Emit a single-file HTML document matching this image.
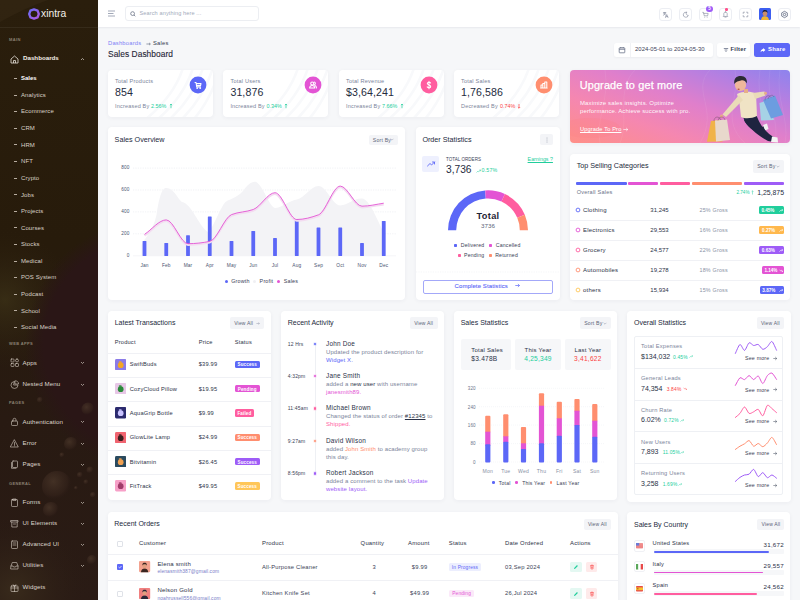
<!DOCTYPE html>
<html><head><meta charset="utf-8"><style>
*{box-sizing:border-box;margin:0;padding:0}
html,body{width:800px;height:600px;overflow:hidden}
body{font-family:"Liberation Sans",sans-serif;background:#f6f7f9;position:relative;color:#1f2a44}
.abs{position:absolute}
.t{position:absolute;white-space:nowrap;line-height:1;letter-spacing:.035em}
#sb{position:absolute;left:0;top:0;width:98px;height:600px;background:linear-gradient(180deg,#2a1e0c 0%,#271b0b 40%,#281a12 70%,#2a1b15 100%);overflow:hidden}
#hdr{position:absolute;left:98px;top:0;width:702px;height:27px;background:#fff;box-shadow:0 1px 1.5px rgba(40,50,90,.07)}
.card{position:absolute;background:#fff;border-radius:4px;box-shadow:0 1px 4px rgba(30,40,80,.05)}
</style></head><body>
<div id="sb">
<svg class="abs" style="left:0;top:0" width="98" height="600"><defs><radialGradient id="bub" cx="38%" cy="35%" r="62%"><stop offset="0" stop-color="#4e3a2c" stop-opacity=".7"/><stop offset=".75" stop-color="#36241c" stop-opacity=".55"/><stop offset="1" stop-color="#2a1a16" stop-opacity="0"/></radialGradient><radialGradient id="glow" cx="50%" cy="50%" r="50%"><stop offset="0" stop-color="#3e3418" stop-opacity=".7"/><stop offset="1" stop-color="#2c200e" stop-opacity="0"/></radialGradient><radialGradient id="big" cx="50%" cy="50%" r="50%"><stop offset=".85" stop-color="#2a1616" stop-opacity="1"/><stop offset="1" stop-color="#2a1616" stop-opacity="0"/></radialGradient><radialGradient id="lb" cx="50%" cy="50%" r="50%"><stop offset="0" stop-color="#3a2c1c" stop-opacity=".9"/><stop offset="1" stop-color="#2a1c14" stop-opacity="0"/></radialGradient></defs><path d="M0 22 Q25 8 48 0 L0 0Z" fill="#3a2c18" opacity=".45"/><circle cx="5" cy="300" r="70" fill="url(#glow)"/><circle cx="150" cy="345" r="125" fill="url(#big)"/><circle cx="15" cy="590" r="75" fill="url(#lb)"/><circle cx="57" cy="486" r="15" fill="url(#bub)"/><circle cx="71" cy="444" r="7" fill="url(#bub)"/><circle cx="88" cy="409" r="6.5" fill="url(#bub)"/><circle cx="51" cy="510" r="8" fill="url(#bub)"/><circle cx="80" cy="475" r="3" fill="url(#bub)"/><circle cx="86" cy="482" r="2.5" fill="url(#bub)"/><circle cx="76" cy="488" r="2" fill="url(#bub)"/><circle cx="90" cy="470" r="3.5" fill="url(#bub)"/><circle cx="62" cy="455" r="2.5" fill="url(#bub)"/><circle cx="93" cy="495" r="3" fill="url(#bub)"/><circle cx="40" cy="400" r="3" fill="url(#bub)"/><circle cx="92" cy="560" r="5" fill="url(#bub)"/></svg>
<svg class="abs" style="left:27.5px;top:7.5px" width="12" height="12" viewBox="0 0 12 12"><defs><linearGradient id="lg" x1="0" y1="0" x2="1" y2="1"><stop offset="0" stop-color="#6a6cf5"/><stop offset="1" stop-color="#b05ae0"/></linearGradient></defs><path d="M6 1.3 L9.6 2.6 L10.8 6 L9.6 9.4 L6 10.7 L2.4 9.4 L1.2 6 L2.4 2.6Z" fill="none" stroke="url(#lg)" stroke-width="2.3" stroke-linejoin="round"/></svg>
<div class="t" style="left:41.00px;top:9px;font-size:10.3px;color:#f3efe9;font-weight:normal;letter-spacing:0">xintra</div>
<div class="abs" style="left:0.00px;top:27.00px;width:98.00px;height:1.00px;background:rgba(255,255,255,.06)"></div>
<div class="t" style="left:9.00px;top:38px;font-size:4.0px;color:#8a8072;font-weight:bold;letter-spacing:.35px">MAIN</div>
<svg class="abs" style="left:9.5px;top:54.5px" width="9" height="9" viewBox="0 0 9 9"><path d="M1 4 L4.5 1 L8 4 V8 H1Z M3.5 8 V5.5 H5.5 V8" fill="none" stroke="#e8e2da" stroke-width=".8" stroke-linejoin="round"/></svg>
<div class="t" style="left:23.00px;top:55px;font-size:6.2px;color:#f4efe8;font-weight:bold;letter-spacing:0">Dashboards</div>
<svg class="abs" style="left:80px;top:56.5px" width="5" height="4" viewBox="0 0 5 4"><path d="M1 3 L2.5 1.5 L4 3" fill="none" stroke="#d8d0c6" stroke-width=".7"/></svg>
<div class="abs" style="left:13.50px;top:77.90px;width:3.00px;height:0.80px;background:#b8ada0"></div>
<div class="t" style="left:21.00px;top:75px;font-size:6px;color:#fff;font-weight:bold;letter-spacing:0">Sales</div>
<div class="abs" style="left:13.50px;top:94.50px;width:3.00px;height:0.80px;background:#b8ada0"></div>
<div class="t" style="left:21.00px;top:92px;font-size:6px;color:#d9d1c7;font-weight:normal;letter-spacing:.1px">Analytics</div>
<div class="abs" style="left:13.50px;top:111.10px;width:3.00px;height:0.80px;background:#b8ada0"></div>
<div class="t" style="left:21.00px;top:108px;font-size:6px;color:#d9d1c7;font-weight:normal;letter-spacing:.1px">Ecommerce</div>
<div class="abs" style="left:13.50px;top:127.70px;width:3.00px;height:0.80px;background:#b8ada0"></div>
<div class="t" style="left:21.00px;top:125px;font-size:6px;color:#d9d1c7;font-weight:normal;letter-spacing:.1px">CRM</div>
<div class="abs" style="left:13.50px;top:144.30px;width:3.00px;height:0.80px;background:#b8ada0"></div>
<div class="t" style="left:21.00px;top:142px;font-size:6px;color:#d9d1c7;font-weight:normal;letter-spacing:.1px">HRM</div>
<div class="abs" style="left:13.50px;top:160.90px;width:3.00px;height:0.80px;background:#b8ada0"></div>
<div class="t" style="left:21.00px;top:158px;font-size:6px;color:#d9d1c7;font-weight:normal;letter-spacing:.1px">NFT</div>
<div class="abs" style="left:13.50px;top:177.50px;width:3.00px;height:0.80px;background:#b8ada0"></div>
<div class="t" style="left:21.00px;top:175px;font-size:6px;color:#d9d1c7;font-weight:normal;letter-spacing:.1px">Crypto</div>
<div class="abs" style="left:13.50px;top:194.10px;width:3.00px;height:0.80px;background:#b8ada0"></div>
<div class="t" style="left:21.00px;top:192px;font-size:6px;color:#d9d1c7;font-weight:normal;letter-spacing:.1px">Jobs</div>
<div class="abs" style="left:13.50px;top:210.70px;width:3.00px;height:0.80px;background:#b8ada0"></div>
<div class="t" style="left:21.00px;top:208px;font-size:6px;color:#d9d1c7;font-weight:normal;letter-spacing:.1px">Projects</div>
<div class="abs" style="left:13.50px;top:227.30px;width:3.00px;height:0.80px;background:#b8ada0"></div>
<div class="t" style="left:21.00px;top:225px;font-size:6px;color:#d9d1c7;font-weight:normal;letter-spacing:.1px">Courses</div>
<div class="abs" style="left:13.50px;top:243.90px;width:3.00px;height:0.80px;background:#b8ada0"></div>
<div class="t" style="left:21.00px;top:241px;font-size:6px;color:#d9d1c7;font-weight:normal;letter-spacing:.1px">Stocks</div>
<div class="abs" style="left:13.50px;top:260.50px;width:3.00px;height:0.80px;background:#b8ada0"></div>
<div class="t" style="left:21.00px;top:258px;font-size:6px;color:#d9d1c7;font-weight:normal;letter-spacing:.1px">Medical</div>
<div class="abs" style="left:13.50px;top:277.10px;width:3.00px;height:0.80px;background:#b8ada0"></div>
<div class="t" style="left:21.00px;top:274px;font-size:6px;color:#d9d1c7;font-weight:normal;letter-spacing:.1px">POS System</div>
<div class="abs" style="left:13.50px;top:293.70px;width:3.00px;height:0.80px;background:#b8ada0"></div>
<div class="t" style="left:21.00px;top:291px;font-size:6px;color:#d9d1c7;font-weight:normal;letter-spacing:.1px">Podcast</div>
<div class="abs" style="left:13.50px;top:310.30px;width:3.00px;height:0.80px;background:#b8ada0"></div>
<div class="t" style="left:21.00px;top:308px;font-size:6px;color:#d9d1c7;font-weight:normal;letter-spacing:.1px">School</div>
<div class="abs" style="left:13.50px;top:326.90px;width:3.00px;height:0.80px;background:#b8ada0"></div>
<div class="t" style="left:21.00px;top:324px;font-size:6px;color:#d9d1c7;font-weight:normal;letter-spacing:.1px">Social Media</div>
<div class="t" style="left:9.00px;top:342px;font-size:4.0px;color:#8a8072;font-weight:bold;letter-spacing:.35px">WEB APPS</div>
<div class="t" style="left:9.00px;top:401px;font-size:4.0px;color:#8a8072;font-weight:bold;letter-spacing:.35px">PAGES</div>
<div class="t" style="left:9.00px;top:482px;font-size:4.0px;color:#8a8072;font-weight:bold;letter-spacing:.35px">GENERAL</div>
<svg class="abs" style="left:9.5px;top:358.4px" width="9" height="9" viewBox="0 0 9 9"><g fill="none" stroke="#d6cec4" stroke-width=".6" stroke-linejoin="round" stroke-linecap="round"><rect x="1" y="1" width="3" height="3" rx=".6"/><rect x="5.5" y="1" width="3" height="3" rx="1.5"/><rect x="1" y="5.5" width="3" height="3" rx=".6"/><rect x="5.5" y="5.5" width="3" height="3" rx=".6"/></g></svg>
<div class="t" style="left:22.50px;top:360px;font-size:6.2px;color:#ddd6cc;font-weight:normal;letter-spacing:.1px">Apps</div>
<svg class="abs" style="left:80px;top:361.4px" width="5" height="4" viewBox="0 0 5 4"><path d="M1 1 L2.5 2.5 L4 1" fill="none" stroke="#cfc6bb" stroke-width=".7"/></svg>
<svg class="abs" style="left:9.5px;top:379.5px" width="9" height="9" viewBox="0 0 9 9"><g fill="none" stroke="#d6cec4" stroke-width=".6" stroke-linejoin="round" stroke-linecap="round"><path d="M4 1.5 A3.5 3.5 0 1 0 8 5 H4Z"/><path d="M5.3 0.8 A3 3 0 0 1 8.6 4 H5.3Z"/></g></svg>
<div class="t" style="left:22.50px;top:381px;font-size:6.2px;color:#ddd6cc;font-weight:normal;letter-spacing:.1px">Nested Menu</div>
<svg class="abs" style="left:80px;top:382.5px" width="5" height="4" viewBox="0 0 5 4"><path d="M1 1 L2.5 2.5 L4 1" fill="none" stroke="#cfc6bb" stroke-width=".7"/></svg>
<svg class="abs" style="left:9.5px;top:417.3px" width="9" height="9" viewBox="0 0 9 9"><g fill="none" stroke="#d6cec4" stroke-width=".6" stroke-linejoin="round" stroke-linecap="round"><rect x="1.5" y="4" width="6" height="4.5" rx=".8"/><path d="M3 4 V2.8 A1.5 1.5 0 0 1 6 2.8 V4"/></g></svg>
<div class="t" style="left:22.50px;top:419px;font-size:6.2px;color:#ddd6cc;font-weight:normal;letter-spacing:.1px">Authentication</div>
<svg class="abs" style="left:80px;top:420.3px" width="5" height="4" viewBox="0 0 5 4"><path d="M1 1 L2.5 2.5 L4 1" fill="none" stroke="#cfc6bb" stroke-width=".7"/></svg>
<svg class="abs" style="left:9.5px;top:438.5px" width="9" height="9" viewBox="0 0 9 9"><g fill="none" stroke="#d6cec4" stroke-width=".6" stroke-linejoin="round" stroke-linecap="round"><path d="M4.5 1 L8.3 8 H0.7Z"/><path d="M4.5 3.5 V5.6 M4.5 6.6 V6.9"/></g></svg>
<div class="t" style="left:22.50px;top:440px;font-size:6.2px;color:#ddd6cc;font-weight:normal;letter-spacing:.1px">Error</div>
<svg class="abs" style="left:80px;top:441.5px" width="5" height="4" viewBox="0 0 5 4"><path d="M1 1 L2.5 2.5 L4 1" fill="none" stroke="#cfc6bb" stroke-width=".7"/></svg>
<svg class="abs" style="left:9.5px;top:459.6px" width="9" height="9" viewBox="0 0 9 9"><g fill="none" stroke="#d6cec4" stroke-width=".6" stroke-linejoin="round" stroke-linecap="round"><rect x="2.5" y="1" width="5" height="6.5" rx=".6"/><path d="M1.5 2.5 V8.3 H6"/></g></svg>
<div class="t" style="left:22.50px;top:461px;font-size:6.2px;color:#ddd6cc;font-weight:normal;letter-spacing:.1px">Pages</div>
<svg class="abs" style="left:80px;top:462.6px" width="5" height="4" viewBox="0 0 5 4"><path d="M1 1 L2.5 2.5 L4 1" fill="none" stroke="#cfc6bb" stroke-width=".7"/></svg>
<svg class="abs" style="left:9.5px;top:497.9px" width="9" height="9" viewBox="0 0 9 9"><g fill="none" stroke="#d6cec4" stroke-width=".6" stroke-linejoin="round" stroke-linecap="round"><rect x="1.5" y="1.5" width="6" height="7" rx=".7"/><path d="M3 1 H6 V2.5 H3Z"/></g></svg>
<div class="t" style="left:22.50px;top:499px;font-size:6.2px;color:#ddd6cc;font-weight:normal;letter-spacing:.1px">Forms</div>
<svg class="abs" style="left:80px;top:500.9px" width="5" height="4" viewBox="0 0 5 4"><path d="M1 1 L2.5 2.5 L4 1" fill="none" stroke="#cfc6bb" stroke-width=".7"/></svg>
<svg class="abs" style="left:9.5px;top:519.0px" width="9" height="9" viewBox="0 0 9 9"><g fill="none" stroke="#d6cec4" stroke-width=".6" stroke-linejoin="round" stroke-linecap="round"><path d="M1 1.5 H8 V3 H1Z M1.8 3 V8 H7.2 V3 M3.5 5 H5.5"/></g></svg>
<div class="t" style="left:22.50px;top:520px;font-size:6.2px;color:#ddd6cc;font-weight:normal;letter-spacing:.1px">UI Elements</div>
<svg class="abs" style="left:80px;top:522.0px" width="5" height="4" viewBox="0 0 5 4"><path d="M1 1 L2.5 2.5 L4 1" fill="none" stroke="#cfc6bb" stroke-width=".7"/></svg>
<svg class="abs" style="left:9.5px;top:540.2px" width="9" height="9" viewBox="0 0 9 9"><g fill="none" stroke="#d6cec4" stroke-width=".6" stroke-linejoin="round" stroke-linecap="round"><rect x="1.5" y="1" width="6" height="7.5" rx=".7"/><path d="M3 3 H6 M3 5 H6"/></g></svg>
<div class="t" style="left:22.50px;top:541px;font-size:6.2px;color:#ddd6cc;font-weight:normal;letter-spacing:.1px">Advanced UI</div>
<svg class="abs" style="left:80px;top:543.2px" width="5" height="4" viewBox="0 0 5 4"><path d="M1 1 L2.5 2.5 L4 1" fill="none" stroke="#cfc6bb" stroke-width=".7"/></svg>
<svg class="abs" style="left:9.5px;top:560.9px" width="9" height="9" viewBox="0 0 9 9"><g fill="none" stroke="#d6cec4" stroke-width=".6" stroke-linejoin="round" stroke-linecap="round"><path d="M1 5 L2.3 1.5 H6.7 L8 5 V8 H1Z M1 5 H3 L3.5 6 H5.5 L6 5 H8"/></g></svg>
<div class="t" style="left:22.50px;top:562px;font-size:6.2px;color:#ddd6cc;font-weight:normal;letter-spacing:.1px">Utilities</div>
<svg class="abs" style="left:80px;top:563.9px" width="5" height="4" viewBox="0 0 5 4"><path d="M1 1 L2.5 2.5 L4 1" fill="none" stroke="#cfc6bb" stroke-width=".7"/></svg>
<svg class="abs" style="left:9.5px;top:582.9px" width="9" height="9" viewBox="0 0 9 9"><g fill="none" stroke="#d6cec4" stroke-width=".6" stroke-linejoin="round" stroke-linecap="round"><rect x="1" y="3" width="7" height="5.5" rx=".6"/><path d="M1 5 H8 M4.5 3 V8.5 M4.5 3 C3 1 1.5 2 4.5 3 C7.5 2 6 1 4.5 3"/></g></svg>
<div class="t" style="left:22.50px;top:584px;font-size:6.2px;color:#ddd6cc;font-weight:normal;letter-spacing:.1px">Widgets</div>
</div>
<div id="hdr">
<svg class="abs" style="left:9px;top:9px" width="9" height="9" viewBox="0 0 9 9"><path d="M1 2 H8 M1 4.5 H6.5 M1 7 H8" stroke="#8a93a6" stroke-width=".8" fill="none"/></svg>
<div class="abs" style="left:26.5px;top:6.3px;width:134px;height:14.5px;border:1px solid #eceef2;border-radius:3px"></div>
<svg class="abs" style="left:32px;top:10.5px" width="6" height="6" viewBox="0 0 6 6"><circle cx="2.6" cy="2.6" r="1.9" fill="none" stroke="#5b6478" stroke-width=".7"/><path d="M4 4 L5.3 5.3" stroke="#5b6478" stroke-width=".7"/></svg>
<div class="t" style="left:41.50px;top:11px;font-size:5.6px;color:#a3abbb;font-weight:normal;letter-spacing:.1px">Search anything here ...</div>
<div class="abs" style="left:560.5px;top:7.5px;width:13px;height:13px;border:.7px solid #eceef3;border-radius:3px"></div>
<svg class="abs" style="left:562.5px;top:9.5px" width="9" height="9" viewBox="0 0 9 9"><g fill="none" stroke="#6b7389" stroke-width=".6" stroke-linecap="round" stroke-linejoin="round" transform="translate(4.5 4.5) scale(.85) translate(-4.5 -4.5)"><path d="M2 2.5 H5 M3.5 2 V2.5 M2.5 2.5 C2.8 4 3.8 5 5 5.3 M4.5 2.5 C4.2 4 3.2 5 2 5.3 M4.5 8 L6 4.5 L7.5 8 M5 7 H7" /></g></svg>
<div class="abs" style="left:580.5px;top:7.5px;width:13px;height:13px;border:.7px solid #eceef3;border-radius:3px"></div>
<svg class="abs" style="left:582.5px;top:9.5px" width="9" height="9" viewBox="0 0 9 9"><g fill="none" stroke="#6b7389" stroke-width=".6" stroke-linecap="round" stroke-linejoin="round" transform="translate(4.5 4.5) scale(.85) translate(-4.5 -4.5)"><path d="M5.5 1.8 A3 3 0 1 0 7.8 5.5 A2.5 2.5 0 0 1 5.5 1.8Z"/></g></svg>
<div class="abs" style="left:600.5px;top:7.5px;width:13px;height:13px;border:.7px solid #eceef3;border-radius:3px"></div>
<svg class="abs" style="left:602.5px;top:9.5px" width="9" height="9" viewBox="0 0 9 9"><g fill="none" stroke="#6b7389" stroke-width=".6" stroke-linecap="round" stroke-linejoin="round" transform="translate(4.5 4.5) scale(.85) translate(-4.5 -4.5)"><path d="M1.2 2 H2.2 L3 6 H7 L7.6 3.2 H2.6 M3.5 7.6 V7.7 M6.5 7.6 V7.7"/></g></svg>
<div class="abs" style="left:620.5px;top:7.5px;width:13px;height:13px;border:.7px solid #eceef3;border-radius:3px"></div>
<svg class="abs" style="left:622.5px;top:9.5px" width="9" height="9" viewBox="0 0 9 9"><g fill="none" stroke="#6b7389" stroke-width=".6" stroke-linecap="round" stroke-linejoin="round" transform="translate(4.5 4.5) scale(.85) translate(-4.5 -4.5)"><path d="M4.5 1.5 C3 1.5 2.5 2.8 2.5 4 V5.8 L1.8 6.8 H7.2 L6.5 5.8 V4 C6.5 2.8 6 1.5 4.5 1.5Z M3.8 7.6 H5.2"/></g></svg>
<div class="abs" style="left:640.5px;top:7.5px;width:13px;height:13px;border:.7px solid #eceef3;border-radius:3px"></div>
<svg class="abs" style="left:642.5px;top:9.5px" width="9" height="9" viewBox="0 0 9 9"><g fill="none" stroke="#6b7389" stroke-width=".6" stroke-linecap="round" stroke-linejoin="round" transform="translate(4.5 4.5) scale(.85) translate(-4.5 -4.5)"><path d="M1.8 3.3 V1.8 H3.3 M5.7 1.8 H7.2 V3.3 M7.2 5.7 V7.2 H5.7 M3.3 7.2 H1.8 V5.7"/></g></svg>
<div class="abs" style="left:608.3px;top:5.6px;width:6.4px;height:6.4px;border-radius:50%;background:#9e5cf7;color:#fff;font-size:4.6px;line-height:6.4px;text-align:center;font-weight:bold">5</div>
<div class="abs" style="left:627px;top:8.3px;width:2.6px;height:2.6px;border-radius:50%;background:#ff4f8b"></div>
<svg class="abs" style="left:660.5px;top:8.2px" width="12" height="12" viewBox="0 0 12 12"><rect width="12" height="12" rx="1.5" fill="#3d5ef0"/><path d="M2 12 C2.5 9 4 8.2 6 8.2 C8 8.2 9.5 9 10 12Z" fill="#f2b632"/><ellipse cx="6" cy="5.6" rx="2.3" ry="2.7" fill="#c98d6a"/><path d="M3.5 5 C3.4 2.5 4.8 2 6 2 C7.4 2 8.7 2.6 8.5 5 C8 3.8 7 3.6 6 3.6 C4.8 3.6 4 4 3.5 5Z" fill="#1c1c2a"/></svg>
<div class="abs" style="left:679.5px;top:7.5px;width:13px;height:13px;border:.7px solid #eceef3;border-radius:3px"></div>
<svg class="abs" style="left:681.5px;top:9.5px" width="9" height="9" viewBox="0 0 9 9"><g fill="none" stroke="#56607a" stroke-width=".75"><circle cx="4.5" cy="4.5" r="1.2"/><path d="M4.5 1.3 L7.3 2.9 V6.1 L4.5 7.7 L1.7 6.1 V2.9Z" stroke-linejoin="round"/></g></svg>
</div>
<div class="t" style="left:108.00px;top:41px;font-size:5.8px;color:#7d80f5;font-weight:normal;">Dashboards</div>
<svg class="abs" style="left:146.3px;top:41.9px" width="5" height="4" viewBox="0 0 5 4"><path d="M.4 2 H4.3 M3.1 .9 L4.3 2 L3.1 3.1" fill="none" stroke="#5b6478" stroke-width=".6"/></svg>
<div class="t" style="left:153.00px;top:41px;font-size:5.8px;color:#333b4f;font-weight:normal;">Sales</div>
<div class="t" style="left:108.00px;top:50px;font-size:8.4px;color:#1f2535;font-weight:normal;letter-spacing:.05px;-webkit-text-stroke:.1px #1f2535">Sales Dashboard</div>
<div class="abs" style="left:614.00px;top:42.50px;width:99.00px;height:14.00px;background:#fff;border-radius:2.5px;box-shadow:0 1px 2px rgba(30,40,80,.05)"></div>
<div class="abs" style="left:630.00px;top:42.50px;width:1.00px;height:14.00px;background:#f1f2f5"></div>
<svg class="abs" style="left:617.5px;top:45.5px" width="8" height="8" viewBox="0 0 8 8"><g fill="none" stroke="#56607a" stroke-width=".7"><rect x="1.2" y="1.8" width="5.6" height="5" rx=".6"/><path d="M1.2 3.3 H6.8 M2.8 1 V2.4 M5.2 1 V2.4"/></g></svg>
<div class="t" style="left:635.00px;top:47px;font-size:5.9px;color:#3a4256;font-weight:normal;letter-spacing:.05px">2024-05-01 to 2024-05-30</div>
<div class="abs" style="left:717.00px;top:42.50px;width:32.50px;height:14.00px;background:#fff;border-radius:2.5px;box-shadow:0 1px 2px rgba(30,40,80,.05)"></div>
<svg class="abs" style="left:722.5px;top:46.5px" width="6" height="6" viewBox="0 0 6 6"><path d="M.8 1.5 H5.2 M1.6 3 H4.4 M2.5 4.5 H3.5" stroke="#56607a" stroke-width=".7"/></svg>
<div class="t" style="left:730.50px;top:47px;font-size:5.9px;color:#333b4f;font-weight:bold;">Filter</div>
<div class="abs" style="left:754.30px;top:42.50px;width:36.20px;height:14.30px;background:#5c67f7;border-radius:2.5px"></div>
<svg class="abs" style="left:759.5px;top:46.5px" width="6" height="6" viewBox="0 0 6 6"><path d="M3.2 1 L5.4 3 L3.2 5 V3.9 C2 3.9 1.2 4.3 .6 5.2 C.8 3.4 1.8 2.2 3.2 2.1Z" fill="#fff"/></svg>
<div class="t" style="left:768.00px;top:47px;font-size:5.9px;color:#fff;font-weight:bold;">Share</div>
<div class="card" style="left:108px;top:70.3px;width:105px;height:46.8px;overflow:hidden"><svg class="abs" style="left:0;top:0" width="105" height="47"><g fill="none" stroke="#f8f9fb" stroke-width="2.6"><path d="M38 49 C55 35 68 20 75 -2"/><path d="M50 49 C66 35 78 20 85 -2"/><path d="M62 49 C77 35 88 20 95 -2"/><path d="M74 49 C88 35 98 20 105 -2"/><path d="M86 49 C98 35 106 20 112 -2"/></g></svg></div>
<div class="t" style="left:115.00px;top:79px;font-size:5.6px;color:#7b849a;font-weight:normal;">Total Products</div>
<div class="t" style="left:115.00px;top:87px;font-size:10.6px;color:#252c40;font-weight:normal;letter-spacing:.1px">854</div>
<div class="t" style="left:115.00px;top:104px;font-size:5.5px;color:#7b849a;font-weight:normal;">Increased By</div>
<div class="t" style="left:151.10px;top:104px;font-size:5.4px;color:#21ce9c;font-weight:normal;letter-spacing:0">2.56%</div>
<svg class="abs" style="left:168.80px;top:102.6px" width="4" height="6" viewBox="0 0 4 6"><g fill="none" stroke="#21ce9c" stroke-width=".7"><path d="M2 5.2 V1 M.9 2.1 L2 1 L3.1 2.1" /></g></svg>
<svg class="abs" style="left:189.00px;top:76.40px" width="18" height="18" viewBox="-9 -9 18 18"><circle r="8.4" fill="#5c67f7"/><g fill="none" stroke="#fff" stroke-width="1.05" stroke-linecap="round" stroke-linejoin="round"><path d="M-3 -2.6 H-2 L-1.3 2 H2.6 M-1.6 -1.4 H3 L2.6 .6 H-1.1" /><circle cx="-.8" cy="3.1" r=".4" fill="#fff"/><circle cx="2.2" cy="3.1" r=".4" fill="#fff"/></g></svg>
<div class="card" style="left:223.4px;top:70.3px;width:105px;height:46.8px;overflow:hidden"><svg class="abs" style="left:0;top:0" width="105" height="47"><g fill="none" stroke="#f8f9fb" stroke-width="2.6"><path d="M38 49 C55 35 68 20 75 -2"/><path d="M50 49 C66 35 78 20 85 -2"/><path d="M62 49 C77 35 88 20 95 -2"/><path d="M74 49 C88 35 98 20 105 -2"/><path d="M86 49 C98 35 106 20 112 -2"/></g></svg></div>
<div class="t" style="left:230.40px;top:79px;font-size:5.6px;color:#7b849a;font-weight:normal;">Total Users</div>
<div class="t" style="left:230.40px;top:87px;font-size:10.6px;color:#252c40;font-weight:normal;letter-spacing:.1px">31,876</div>
<div class="t" style="left:230.40px;top:104px;font-size:5.5px;color:#7b849a;font-weight:normal;">Increased By</div>
<div class="t" style="left:266.50px;top:104px;font-size:5.4px;color:#21ce9c;font-weight:normal;letter-spacing:0">0.34%</div>
<svg class="abs" style="left:284.20px;top:102.6px" width="4" height="6" viewBox="0 0 4 6"><g fill="none" stroke="#21ce9c" stroke-width=".7"><path d="M2 5.2 V1 M.9 2.1 L2 1 L3.1 2.1" /></g></svg>
<svg class="abs" style="left:304.40px;top:76.40px" width="18" height="18" viewBox="-9 -9 18 18"><circle r="8.4" fill="#e354d4"/><g fill="none" stroke="#fff" stroke-width="1.05" stroke-linecap="round" stroke-linejoin="round"><circle cx="-.8" cy="-1.6" r="1.5"/><path d="M-3.4 3 C-3.2 1 -2.2 .4 -.8 .4 C.6 .4 1.6 1 1.8 3Z"/><path d="M1.2 -3 C2.6 -3 2.8 -.6 1.4 -.2 M2 .5 C3 .8 3.4 1.6 3.5 3"/></g></svg>
<div class="card" style="left:339px;top:70.3px;width:105px;height:46.8px;overflow:hidden"><svg class="abs" style="left:0;top:0" width="105" height="47"><g fill="none" stroke="#f8f9fb" stroke-width="2.6"><path d="M38 49 C55 35 68 20 75 -2"/><path d="M50 49 C66 35 78 20 85 -2"/><path d="M62 49 C77 35 88 20 95 -2"/><path d="M74 49 C88 35 98 20 105 -2"/><path d="M86 49 C98 35 106 20 112 -2"/></g></svg></div>
<div class="t" style="left:346.00px;top:79px;font-size:5.6px;color:#7b849a;font-weight:normal;">Total Revenue</div>
<div class="t" style="left:346.00px;top:87px;font-size:10.6px;color:#252c40;font-weight:normal;letter-spacing:.1px">$3,64,241</div>
<div class="t" style="left:346.00px;top:104px;font-size:5.5px;color:#7b849a;font-weight:normal;">Increased By</div>
<div class="t" style="left:382.10px;top:104px;font-size:5.4px;color:#21ce9c;font-weight:normal;letter-spacing:0">7.66%</div>
<svg class="abs" style="left:399.80px;top:102.6px" width="4" height="6" viewBox="0 0 4 6"><g fill="none" stroke="#21ce9c" stroke-width=".7"><path d="M2 5.2 V1 M.9 2.1 L2 1 L3.1 2.1" /></g></svg>
<svg class="abs" style="left:420.00px;top:76.40px" width="18" height="18" viewBox="-9 -9 18 18"><circle r="8.4" fill="#ff5d9f"/><g fill="none" stroke="#fff" stroke-width="1.05" stroke-linecap="round" stroke-linejoin="round"><path d="M1.6 -2 C1.2 -2.6 .6 -2.8 0 -2.8 C-1 -2.8 -1.7 -2.2 -1.7 -1.4 C-1.7 .3 1.7 -.4 1.7 1.4 C1.7 2.2 1 2.8 0 2.8 C-.7 2.8 -1.4 2.5 -1.8 1.9 M0 -3.8 V3.8"/></g></svg>
<div class="card" style="left:454px;top:70.3px;width:105px;height:46.8px;overflow:hidden"><svg class="abs" style="left:0;top:0" width="105" height="47"><g fill="none" stroke="#f8f9fb" stroke-width="2.6"><path d="M38 49 C55 35 68 20 75 -2"/><path d="M50 49 C66 35 78 20 85 -2"/><path d="M62 49 C77 35 88 20 95 -2"/><path d="M74 49 C88 35 98 20 105 -2"/><path d="M86 49 C98 35 106 20 112 -2"/></g></svg></div>
<div class="t" style="left:461.00px;top:79px;font-size:5.6px;color:#7b849a;font-weight:normal;">Total Sales</div>
<div class="t" style="left:461.00px;top:87px;font-size:10.6px;color:#252c40;font-weight:normal;letter-spacing:.1px">1,76,586</div>
<div class="t" style="left:461.00px;top:104px;font-size:5.5px;color:#7b849a;font-weight:normal;">Decreased By</div>
<div class="t" style="left:500.00px;top:104px;font-size:5.4px;color:#fb4242;font-weight:normal;letter-spacing:0">0.74%</div>
<svg class="abs" style="left:516.80px;top:102.6px" width="4" height="6" viewBox="0 0 4 6"><g fill="none" stroke="#fb4242" stroke-width=".7"><path d="M2 1 V5.2 M.9 4.1 L2 5.2 L3.1 4.1"/></g></svg>
<svg class="abs" style="left:535.00px;top:76.40px" width="18" height="18" viewBox="-9 -9 18 18"><circle r="8.4" fill="#ff8e6f"/><g fill="none" stroke="#fff" stroke-width="1.05" stroke-linecap="round" stroke-linejoin="round"><path d="M-3 3 V0 H-1.2 V3 M-1.2 3 V-1.5 H.8 V3 M.8 3 V-3 H2.8 V3Z M-3.4 3 H3.2"/></g></svg>
<div class="card" style="left:570px;top:70.2px;width:220.3px;height:73px;overflow:hidden;border-radius:4px;background:linear-gradient(20deg,#ff8f87 0%,#f587b0 30%,#e07fcb 55%,#b77fe0 78%,#8c83ee 100%)"><svg class="abs" style="left:0;top:0" width="221" height="73"><g fill="none" stroke="rgba(255,255,255,.12)" stroke-width=".6"><path d="M30 73 C25 50 40 30 35 0"/><path d="M50 73 C60 50 45 20 65 0"/><path d="M140 0 C120 20 150 40 130 73"/><path d="M165 0 C170 30 150 50 175 73"/><path d="M190 0 C185 30 200 50 195 73"/><path d="M200 0 C195 30 210 50 205 73"/><path d="M210 0 C205 30 220 50 215 73"/></g><ellipse cx="20" cy="58" rx="30" ry="10" fill="rgba(255,120,120,.15)"/></svg></div>
<div class="t" style="left:579.70px;top:80px;font-size:10.9px;color:#fff;font-weight:normal;letter-spacing:.15px;-webkit-text-stroke:.25px #fff">Upgrade to get more</div>
<div class="t" style="left:580.00px;top:100px;font-size:6.0px;color:rgba(255,255,255,.95);font-weight:normal;letter-spacing:.12px">Maximize sales insights. Optimize</div>
<div class="t" style="left:580.00px;top:108px;font-size:6.0px;color:rgba(255,255,255,.95);font-weight:normal;letter-spacing:.12px">performance. Achieve success with pro.</div>
<div class="t" style="left:580.00px;top:127px;font-size:5.7px;color:#fff;font-weight:normal;text-decoration:underline;letter-spacing:.12px">Upgrade To Pro</div>
<svg class="abs" style="left:622.5px;top:127.3px" width="6" height="5" viewBox="0 0 6 5"><path d="M.3 2.5 H4.8 M3.2 1 L4.8 2.5 L3.2 4" fill="none" stroke="#fff" stroke-width=".6"/></svg>
<svg class="abs" style="left:700px;top:73px" width="90" height="71" viewBox="700 73 90 71"><path d="M759.5 103 L768 100 L774 120 L761 120.5Z" fill="#a6d2e6"/><path d="M763 100 L775 95.5 L783 115 L771 118.5Z" fill="#6c9de0"/><path d="M765 100.5 C765 96 769 94 771 97.5 M768 99 C769 95 773 94 774 97" fill="none" stroke="#5a5a80" stroke-width=".45"/><path d="M748 117 C752 124 757 128 762 127 L765 126 L766 130 L760 132 C753 132 747 126 744 120Z" fill="#232a48"/><path d="M763 125 L767 123.5 L768.5 129 L765 130.5Z" fill="#f0f0f0"/><path d="M742 114 L756 113 C758 122 764 131 772 136 L776 138.5 L774 142 L768 141 C758 136 750 128 745 122Z" fill="#1e2440"/><path d="M772 136.5 L777.5 137.5 L778 142.5 L771 142Z" fill="#f3f3f3"/><path d="M737 94 C742 91 751 91 756 93.5 L757 116 C752 118.5 745 119 741 117 L739.5 103Z" fill="#f0e3c5"/><path d="M739 95 L743 100 L726 117 L722.5 114.5Z" fill="#eadbb8"/><path d="M753 93 L764.5 91.5 L765.5 95.5 L755 99Z" fill="#eadbb8"/><circle cx="721.5" cy="116" r="1.6" fill="#e7ad88"/><circle cx="765.5" cy="93.3" r="1.5" fill="#e7ad88"/><path d="M711 121 L720 120 L722.5 141.5 L707 141.8Z" fill="#f0b349"/><path d="M715 120.5 L727 119.5 L730 140 L716 141.5Z" fill="#e8d8cc"/><path d="M714 121 C714 116.5 719 115.5 721 120 M718 120.5 C719 116 724 116 725 120" fill="none" stroke="#6a4a60" stroke-width=".45"/><rect x="744" y="89" width="4" height="4" fill="#e7ad88"/><ellipse cx="740.5" cy="85" rx="5.6" ry="6.1" fill="#efb79b"/><path d="M734.3 84 C733.6 78 737 75.8 741 76 C745 76.2 747.6 78.8 746.8 83.6 C745.5 80.8 743.5 80 741 80.5 C738.5 81 736 81.8 734.3 84Z" fill="#2b2b33"/><ellipse cx="738.6" cy="89.2" rx="1.1" ry=".8" fill="#b5504a"/></svg>
<div class="card" style="left:108px;top:127.4px;width:297px;height:173px"></div>
<div class="t" style="left:114.60px;top:136px;font-size:7.2px;color:#232a3d;font-weight:normal;letter-spacing:.0px">Sales Overview</div>
<div class="abs" style="left:368.60px;top:134.70px;width:29.80px;height:10.40px;background:#f3f4f7;border-radius:2px"></div><div class="t" style="left:372.80px;top:138px;font-size:5.2px;color:#5b6478;font-weight:normal;">Sort By</div><svg class="abs" style="left:390.40px;top:138.40px" width="4" height="3" viewBox="0 0 4 3"><path d="M.6 .8 L2 2.2 L3.4 .8" fill="none" stroke="#8a92a6" stroke-width=".5"/></svg>
<svg class="abs" style="left:0;top:0" width="800" height="600"><line x1="133" y1="168.1" x2="396" y2="168.1" stroke="#e6e8ee" stroke-width=".6" stroke-dasharray="1.2 1.2"/><line x1="133" y1="190.0" x2="396" y2="190.0" stroke="#e6e8ee" stroke-width=".6" stroke-dasharray="1.2 1.2"/><line x1="133" y1="211.9" x2="396" y2="211.9" stroke="#e6e8ee" stroke-width=".6" stroke-dasharray="1.2 1.2"/><line x1="133" y1="233.8" x2="396" y2="233.8" stroke="#e6e8ee" stroke-width=".6" stroke-dasharray="1.2 1.2"/><line x1="133" y1="255.8" x2="396" y2="255.8" stroke="#eceef3" stroke-width=".6"/><path d="M141.5 256 L141.5 245 C144.5 238 152.5 232 156.5 215 C159.5 195 162.25 188 166.25 188 C174.25 188 178.25 200 182.0 202 C192.0 204 198.0 225 207.75 232 C213.75 228 219.75 208 225.5 202 C231.5 198 239.5 197 245.25 188 C249.25 183 253.25 181 256.25 182 C263.25 186 269.0 206 275.0 208 C281.0 208 288.75 201 296.75 199.5 C304.75 198 310.5 186 318.5 186 C326.5 186 332.25 205 340.25 205.5 C348.25 205 354.0 198 362.0 198.5 C370.0 199 377.75 222 383.75 232 L383.75 256Z" fill="#f3f3f6"/><rect x="142.60" y="241.0" width="3.8" height="15.00" rx=".5" fill="#5c67f7"/><rect x="164.35" y="243.1" width="3.8" height="12.90" rx=".5" fill="#5c67f7"/><rect x="186.10" y="235.3" width="3.8" height="20.70" rx=".5" fill="#5c67f7"/><rect x="207.85" y="216.4" width="3.8" height="39.60" rx=".5" fill="#5c67f7"/><rect x="229.60" y="241.0" width="3.8" height="15.00" rx=".5" fill="#5c67f7"/><rect x="251.35" y="230.9" width="3.8" height="25.10" rx=".5" fill="#5c67f7"/><rect x="273.10" y="238.1" width="3.8" height="17.90" rx=".5" fill="#5c67f7"/><rect x="294.85" y="219.5" width="3.8" height="36.50" rx=".5" fill="#5c67f7"/><rect x="316.60" y="227.6" width="3.8" height="28.40" rx=".5" fill="#5c67f7"/><rect x="338.35" y="227.6" width="3.8" height="28.40" rx=".5" fill="#5c67f7"/><rect x="360.10" y="243.0" width="3.8" height="13.00" rx=".5" fill="#5c67f7"/><rect x="381.85" y="221.1" width="3.8" height="34.90" rx=".5" fill="#5c67f7"/><path d="M144.50 234.40 C151.75 229.57 159.00 219.90 166.25 219.90 C173.50 219.90 180.75 243.70 188.00 243.70 C195.25 243.70 202.50 242.81 209.75 241.40 C217.00 239.99 224.25 217.46 231.50 214.60 C238.75 211.74 246.00 212.11 253.25 209.50 C260.50 206.89 267.75 192.70 275.00 192.70 C282.25 192.70 289.50 219.50 296.75 219.50 C304.00 219.50 311.25 217.49 318.50 214.80 C325.75 212.11 333.00 186.10 340.25 186.10 C347.50 186.10 354.75 206.20 362.00 206.20 C369.25 206.20 376.50 204.20 383.75 203.20" fill="none" stroke="#f3dcf1" stroke-width="2" transform="translate(0,1.2)"/><path d="M144.50 234.40 C151.75 229.57 159.00 219.90 166.25 219.90 C173.50 219.90 180.75 243.70 188.00 243.70 C195.25 243.70 202.50 242.81 209.75 241.40 C217.00 239.99 224.25 217.46 231.50 214.60 C238.75 211.74 246.00 212.11 253.25 209.50 C260.50 206.89 267.75 192.70 275.00 192.70 C282.25 192.70 289.50 219.50 296.75 219.50 C304.00 219.50 311.25 217.49 318.50 214.80 C325.75 212.11 333.00 186.10 340.25 186.10 C347.50 186.10 354.75 206.20 362.00 206.20 C369.25 206.20 376.50 204.20 383.75 203.20" fill="none" stroke="#e354d4" stroke-width=".9"/></svg>
<div class="t" style="right:670.40px;top:166px;font-size:4.7px;color:#4a5470;font-weight:normal;">800</div>
<div class="t" style="right:670.40px;top:188px;font-size:4.7px;color:#4a5470;font-weight:normal;">600</div>
<div class="t" style="right:670.40px;top:210px;font-size:4.7px;color:#4a5470;font-weight:normal;">400</div>
<div class="t" style="right:670.40px;top:232px;font-size:4.7px;color:#4a5470;font-weight:normal;">200</div>
<div class="t" style="right:670.40px;top:254px;font-size:4.7px;color:#4a5470;font-weight:normal;">0</div>
<div class="t" style="left:44.50px;width:200px;text-align:center;top:264px;font-size:4.8px;color:#4a5470;font-weight:normal;letter-spacing:.1px">Jan</div>
<div class="t" style="left:66.25px;width:200px;text-align:center;top:264px;font-size:4.8px;color:#4a5470;font-weight:normal;letter-spacing:.1px">Feb</div>
<div class="t" style="left:88.00px;width:200px;text-align:center;top:264px;font-size:4.8px;color:#4a5470;font-weight:normal;letter-spacing:.1px">Mar</div>
<div class="t" style="left:109.75px;width:200px;text-align:center;top:264px;font-size:4.8px;color:#4a5470;font-weight:normal;letter-spacing:.1px">Apr</div>
<div class="t" style="left:131.50px;width:200px;text-align:center;top:264px;font-size:4.8px;color:#4a5470;font-weight:normal;letter-spacing:.1px">May</div>
<div class="t" style="left:153.25px;width:200px;text-align:center;top:264px;font-size:4.8px;color:#4a5470;font-weight:normal;letter-spacing:.1px">Jun</div>
<div class="t" style="left:175.00px;width:200px;text-align:center;top:264px;font-size:4.8px;color:#4a5470;font-weight:normal;letter-spacing:.1px">Jul</div>
<div class="t" style="left:196.75px;width:200px;text-align:center;top:264px;font-size:4.8px;color:#4a5470;font-weight:normal;letter-spacing:.1px">Aug</div>
<div class="t" style="left:218.50px;width:200px;text-align:center;top:264px;font-size:4.8px;color:#4a5470;font-weight:normal;letter-spacing:.1px">Sep</div>
<div class="t" style="left:240.25px;width:200px;text-align:center;top:264px;font-size:4.8px;color:#4a5470;font-weight:normal;letter-spacing:.1px">Oct</div>
<div class="t" style="left:262.00px;width:200px;text-align:center;top:264px;font-size:4.8px;color:#4a5470;font-weight:normal;letter-spacing:.1px">Nov</div>
<div class="t" style="left:283.75px;width:200px;text-align:center;top:264px;font-size:4.8px;color:#4a5470;font-weight:normal;letter-spacing:.1px">Dec</div>
<div class="abs" style="left:224.90px;top:279.50px;width:3.00px;height:3.00px;border-radius:50%;background:#5c67f7"></div>
<div class="t" style="left:231.20px;top:279px;font-size:5.4px;color:#3a4256;font-weight:normal;">Growth</div>
<div class="abs" style="left:253.40px;top:279.50px;width:3.00px;height:3.00px;border-radius:50%;background:#f0f0f3"></div>
<div class="t" style="left:259.60px;top:279px;font-size:5.4px;color:#3a4256;font-weight:normal;">Profit</div>
<div class="abs" style="left:277.40px;top:279.50px;width:3.00px;height:3.00px;border-radius:50%;background:#e354d4"></div>
<div class="t" style="left:283.70px;top:279px;font-size:5.4px;color:#3a4256;font-weight:normal;">Sales</div>
<div class="card" style="left:416px;top:127.4px;width:143.5px;height:173px"></div>
<div class="t" style="left:422.40px;top:136px;font-size:7.2px;color:#232a3d;font-weight:normal;letter-spacing:.0px">Order Statistics</div>
<div class="abs" style="left:540.40px;top:133.80px;width:12.30px;height:11.70px;background:#f3f4f7;border-radius:2px"></div>
<svg class="abs" style="left:545.5px;top:137px" width="2" height="6" viewBox="0 0 2 6"><circle cx="1" cy="1" r=".45" fill="#6b7389"/><circle cx="1" cy="3" r=".45" fill="#6b7389"/><circle cx="1" cy="5" r=".45" fill="#6b7389"/></svg>
<div class="abs" style="left:422.40px;top:155.70px;width:16.60px;height:16.30px;background:#eef0fe;border-radius:2px"></div>
<svg class="abs" style="left:425.7px;top:159px" width="10" height="10" viewBox="0 0 10 10"><path d="M1.5 7 L4 4.5 L5.6 6 L8.5 3 M6.5 3 H8.5 V5" fill="none" stroke="#5c67f7" stroke-width=".9" stroke-linecap="round" stroke-linejoin="round"/></svg>
<div class="t" style="left:446.00px;top:158px;font-size:4.5px;color:#3a4256;font-weight:normal;letter-spacing:.05px">TOTAL ORDERS</div>
<div class="t" style="left:446.00px;top:165px;font-size:10.2px;color:#252c40;font-weight:normal;letter-spacing:0">3,736</div>
<svg class="abs" style="left:475.5px;top:168.5px" width="5" height="4" viewBox="0 0 5 4"><path d="M.5 3.5 L2 2 L2.8 2.7 L4.5 1 M3.3 1 H4.5 V2.2" fill="none" stroke="#21ce9c" stroke-width=".5"/></svg>
<div class="t" style="left:481.50px;top:168px;font-size:5.3px;color:#21ce9c;font-weight:normal;">0.57%</div>
<div class="t" style="left:527.60px;top:157px;font-size:5.3px;color:#21ce9c;font-weight:normal;text-decoration:underline;letter-spacing:0">Earnings ?</div>
<svg class="abs" style="left:0;top:0" width="800" height="600"><path d="M448.00 230.30 A40 40 0 0 1 485.21 190.40 L485.78 198.58 A31.8 31.8 0 0 0 456.20 230.30Z" fill="#5c67f7"/><path d="M485.21 190.40 A40 40 0 0 1 504.90 194.05 L501.44 201.48 A31.8 31.8 0 0 0 485.78 198.58Z" fill="#e354d4"/><path d="M504.90 194.05 A40 40 0 0 1 524.82 214.67 L517.27 217.87 A31.8 31.8 0 0 0 501.44 201.48Z" fill="#ff5d9f"/><path d="M524.82 214.67 A40 40 0 0 1 528.00 230.30 L519.80 230.30 A31.8 31.8 0 0 0 517.27 217.87Z" fill="#ff8e6f"/></svg>
<div class="t" style="left:388.00px;width:200px;text-align:center;top:212px;font-size:9.2px;color:#1f2535;font-weight:bold;">Total</div>
<div class="t" style="left:388.00px;width:200px;text-align:center;top:223px;font-size:6.2px;color:#5a6278;font-weight:normal;letter-spacing:0">3736</div>
<div class="abs" style="left:454.30px;top:243.70px;width:3.00px;height:3.00px;border-radius:.8px;background:#5c67f7"></div>
<div class="t" style="left:460.80px;top:243px;font-size:5.2px;color:#3a4256;font-weight:normal;">Delivered</div>
<div class="abs" style="left:489.30px;top:243.70px;width:3.00px;height:3.00px;border-radius:.8px;background:#e354d4"></div>
<div class="t" style="left:495.80px;top:243px;font-size:5.2px;color:#3a4256;font-weight:normal;">Cancelled</div>
<div class="abs" style="left:457.50px;top:253.90px;width:3.00px;height:3.00px;border-radius:.8px;background:#ff5d9f"></div>
<div class="t" style="left:464.00px;top:253px;font-size:5.2px;color:#3a4256;font-weight:normal;">Pending</div>
<div class="abs" style="left:488.70px;top:253.90px;width:3.00px;height:3.00px;border-radius:.8px;background:#ff8e6f"></div>
<div class="t" style="left:495.20px;top:253px;font-size:5.2px;color:#3a4256;font-weight:normal;">Returned</div>
<svg class="abs" style="left:416px;top:271px" width="144" height="2"><line x1="0" y1="1" x2="144" y2="1" stroke="#eef0f4" stroke-width=".6" stroke-dasharray="1.2 1.2"/></svg>
<div class="abs" style="left:422.50px;top:279.80px;width:130.20px;height:14.20px;border:.8px solid #a3a8f9;border-radius:2px"></div>
<div class="t" style="left:454.60px;top:283px;font-size:6.0px;color:#5c67f7;font-weight:normal;letter-spacing:.1px;-webkit-text-stroke:.1px #5c67f7">Complete Statistics</div>
<svg class="abs" style="left:514.50px;top:283.10px" width="5.5" height="5" viewBox="0 0 5.5 5"><path d="M.3 2.5 H4.5 M2.9 1 L4.5 2.5 L2.9 4" fill="none" stroke="#5c67f7" stroke-width="0.7"/></svg>
<div class="card" style="left:570.3px;top:154px;width:220px;height:146px"></div>
<div class="t" style="left:576.70px;top:162px;font-size:7.2px;color:#232a3d;font-weight:normal;letter-spacing:.0px">Top Selling Categories</div>
<div class="abs" style="left:753.00px;top:160.30px;width:30.90px;height:12.30px;background:#f3f4f7;border-radius:2px"></div><div class="t" style="left:757.20px;top:164px;font-size:5.2px;color:#5b6478;font-weight:normal;">Sort By</div><svg class="abs" style="left:775.90px;top:164.95px" width="4" height="3" viewBox="0 0 4 3"><path d="M.6 .8 L2 2.2 L3.4 .8" fill="none" stroke="#8a92a6" stroke-width=".5"/></svg>
<div class="abs" style="left:576.20px;top:182.30px;width:50.50px;height:2.30px;background:#5c67f7;border-radius:1px"></div>
<div class="abs" style="left:628.20px;top:182.30px;width:29.90px;height:2.30px;background:#e354d4;border-radius:1px"></div>
<div class="abs" style="left:659.90px;top:182.30px;width:30.20px;height:2.30px;background:#ff5d9f;border-radius:1px"></div>
<div class="abs" style="left:691.90px;top:182.30px;width:50.20px;height:2.30px;background:#ff8e6f;border-radius:1px"></div>
<div class="abs" style="left:743.90px;top:182.30px;width:40.00px;height:2.30px;background:#9e5cf7;border-radius:1px"></div>
<div class="t" style="left:576.70px;top:190px;font-size:5.6px;color:#6b7389;font-weight:normal;">Overall Sales</div>
<div class="t" style="right:50.50px;top:191px;font-size:4.6px;color:#21ce9c;font-weight:normal;letter-spacing:0">2.74%</div>
<svg class="abs" style="left:750.5px;top:190px" width="3" height="5" viewBox="0 0 3 5"><path d="M1.5 4.5 V.8 M.6 1.7 L1.5 .8 L2.4 1.7" fill="none" stroke="#21ce9c" stroke-width=".45"/></svg>
<div class="t" style="right:16.00px;top:190px;font-size:6.9px;color:#252c40;font-weight:normal;letter-spacing:0">1,25,875</div>
<svg class="abs" style="left:574.75px;top:207.20px" width="6" height="6" viewBox="0 0 6 6"><circle cx="3" cy="3" r="1.9" fill="none" stroke="#5c67f7" stroke-width=".9"/></svg>
<div class="t" style="left:583.00px;top:207px;font-size:6px;color:#2b3247;font-weight:normal;">Clothing</div>
<div class="t" style="left:650.30px;top:207px;font-size:6px;color:#2b3247;font-weight:normal;letter-spacing:0">31,245</div>
<div class="t" style="left:699.50px;top:208px;font-size:5.4px;color:#8a92a6;font-weight:normal;">25% Gross</div>
<div class="abs" style="left:758.60px;top:206.20px;width:25.40px;height:8.00px;background:#21ce9c;border-radius:1.5px"></div>
<div class="t" style="left:761.40px;top:209px;font-size:4.6px;color:#fff;font-weight:bold;letter-spacing:0">0.45%</div>
<svg class="abs" style="left:778.50px;top:208.60px" width="4" height="3.3" viewBox="0 0 4 3.3"><g fill="none" stroke="#fff" stroke-width=".65"><path d="M.4 2.6 L1.5 1.5 L2.2 2.1 L3.6 .7 M2.6 .7 H3.6 V1.7"/></g></svg>
<div class="abs" style="left:570.30px;top:220.00px;width:220.00px;height:0.60px;background:#f0f1f5"></div>
<svg class="abs" style="left:574.75px;top:227.20px" width="6" height="6" viewBox="0 0 6 6"><circle cx="3" cy="3" r="1.9" fill="none" stroke="#e354d4" stroke-width=".9"/></svg>
<div class="t" style="left:583.00px;top:227px;font-size:6px;color:#2b3247;font-weight:normal;">Electronics</div>
<div class="t" style="left:650.30px;top:227px;font-size:6px;color:#2b3247;font-weight:normal;letter-spacing:0">29,553</div>
<div class="t" style="left:699.50px;top:228px;font-size:5.4px;color:#8a92a6;font-weight:normal;">16% Gross</div>
<div class="abs" style="left:759.30px;top:226.20px;width:24.70px;height:8.00px;background:#ffb84d;border-radius:1.5px"></div>
<div class="t" style="left:762.10px;top:229px;font-size:4.6px;color:#fff;font-weight:bold;letter-spacing:0">0.27%</div>
<svg class="abs" style="left:778.50px;top:228.60px" width="4" height="3.3" viewBox="0 0 4 3.3"><g fill="none" stroke="#fff" stroke-width=".65"><path d="M.4 2.6 L1.5 1.5 L2.2 2.1 L3.6 .7 M2.6 .7 H3.6 V1.7"/></g></svg>
<div class="abs" style="left:570.30px;top:240.00px;width:220.00px;height:0.60px;background:#f0f1f5"></div>
<svg class="abs" style="left:574.75px;top:247.20px" width="6" height="6" viewBox="0 0 6 6"><circle cx="3" cy="3" r="1.9" fill="none" stroke="#ff5d9f" stroke-width=".9"/></svg>
<div class="t" style="left:583.00px;top:247px;font-size:6px;color:#2b3247;font-weight:normal;">Grocery</div>
<div class="t" style="left:650.30px;top:247px;font-size:6px;color:#2b3247;font-weight:normal;letter-spacing:0">24,577</div>
<div class="t" style="left:699.50px;top:248px;font-size:5.4px;color:#8a92a6;font-weight:normal;">22% Gross</div>
<div class="abs" style="left:759.00px;top:246.20px;width:25.00px;height:8.00px;background:#9e5cf7;border-radius:1.5px"></div>
<div class="t" style="left:761.80px;top:249px;font-size:4.6px;color:#fff;font-weight:bold;letter-spacing:0">0.63%</div>
<svg class="abs" style="left:778.50px;top:248.60px" width="4" height="3.3" viewBox="0 0 4 3.3"><g fill="none" stroke="#fff" stroke-width=".65"><path d="M.4 2.6 L1.5 1.5 L2.2 2.1 L3.6 .7 M2.6 .7 H3.6 V1.7"/></g></svg>
<div class="abs" style="left:570.30px;top:260.00px;width:220.00px;height:0.60px;background:#f0f1f5"></div>
<svg class="abs" style="left:574.75px;top:267.20px" width="6" height="6" viewBox="0 0 6 6"><circle cx="3" cy="3" r="1.9" fill="none" stroke="#ff8e6f" stroke-width=".9"/></svg>
<div class="t" style="left:583.00px;top:267px;font-size:6px;color:#2b3247;font-weight:normal;">Automobiles</div>
<div class="t" style="left:650.30px;top:267px;font-size:6px;color:#2b3247;font-weight:normal;letter-spacing:0">19,278</div>
<div class="t" style="left:699.50px;top:268px;font-size:5.4px;color:#8a92a6;font-weight:normal;">18% Gross</div>
<div class="abs" style="left:761.60px;top:266.20px;width:22.40px;height:8.00px;background:#e354d4;border-radius:1.5px"></div>
<div class="t" style="left:764.40px;top:269px;font-size:4.6px;color:#fff;font-weight:bold;letter-spacing:0">1.14%</div>
<svg class="abs" style="left:778.50px;top:268.60px" width="4" height="3.3" viewBox="0 0 4 3.3"><g fill="none" stroke="#fff" stroke-width=".65"><path d="M.4 .7 L1.5 1.8 L2.2 1.2 L3.6 2.6 M2.6 2.6 H3.6 V1.6"/></g></svg>
<div class="abs" style="left:570.30px;top:280.00px;width:220.00px;height:0.60px;background:#f0f1f5"></div>
<svg class="abs" style="left:574.75px;top:287.20px" width="6" height="6" viewBox="0 0 6 6"><circle cx="3" cy="3" r="1.9" fill="none" stroke="#ffc658" stroke-width=".9"/></svg>
<div class="t" style="left:583.00px;top:287px;font-size:6px;color:#2b3247;font-weight:normal;">others</div>
<div class="t" style="left:650.30px;top:287px;font-size:6px;color:#2b3247;font-weight:normal;letter-spacing:0">15,934</div>
<div class="t" style="left:699.50px;top:288px;font-size:5.4px;color:#8a92a6;font-weight:normal;">15% Gross</div>
<div class="abs" style="left:759.50px;top:286.20px;width:24.50px;height:8.00px;background:#5c67f7;border-radius:1.5px"></div>
<div class="t" style="left:762.30px;top:289px;font-size:4.6px;color:#fff;font-weight:bold;letter-spacing:0">3.87%</div>
<svg class="abs" style="left:778.50px;top:288.60px" width="4" height="3.3" viewBox="0 0 4 3.3"><g fill="none" stroke="#fff" stroke-width=".65"><path d="M.4 2.6 L1.5 1.5 L2.2 2.1 L3.6 .7 M2.6 .7 H3.6 V1.7"/></g></svg>
<div class="card" style="left:107.5px;top:310.6px;width:163.5px;height:189.9px"></div>
<div class="t" style="left:114.70px;top:319px;font-size:7.0px;color:#232a3d;font-weight:normal;letter-spacing:.0px">Latest Transactions</div>
<div class="abs" style="left:230.00px;top:317.30px;width:34.30px;height:11.70px;background:#f3f4f7;border-radius:2px"></div><div class="t" style="left:234.20px;top:321px;font-size:5.0px;color:#5b6478;font-weight:normal;">View All</div><svg class="abs" style="left:256.30px;top:321.65px" width="4" height="3" viewBox="0 0 4 3"><path d="M.4 1.5 H3.4 M2.4 .6 L3.4 1.5 L2.4 2.4" fill="none" stroke="#8a92a6" stroke-width=".45"/></svg>
<div class="t" style="left:114.70px;top:340px;font-size:5.7px;color:#2b3247;font-weight:normal;">Product</div>
<div class="t" style="left:198.70px;top:340px;font-size:5.7px;color:#2b3247;font-weight:normal;">Price</div>
<div class="t" style="left:234.70px;top:340px;font-size:5.7px;color:#2b3247;font-weight:normal;">Status</div>
<div class="abs" style="left:107.50px;top:352.70px;width:163.50px;height:0.60px;background:#f0f1f5"></div>
<div class="abs" style="left:107.50px;top:377.00px;width:163.50px;height:0.60px;background:#f0f1f5"></div>
<div class="abs" style="left:107.50px;top:401.30px;width:163.50px;height:0.60px;background:#f0f1f5"></div>
<div class="abs" style="left:107.50px;top:425.70px;width:163.50px;height:0.60px;background:#f0f1f5"></div>
<div class="abs" style="left:107.50px;top:450.00px;width:163.50px;height:0.60px;background:#f0f1f5"></div>
<div class="abs" style="left:107.50px;top:474.30px;width:163.50px;height:0.60px;background:#f0f1f5"></div>
<svg class="abs" style="left:114.7px;top:358.80px" width="11.4" height="11.4" viewBox="0 0 12 12"><rect width="12" height="12" rx="1.5" fill="#8b7be8"/><circle cx="6" cy="6.5" r="3" fill="#f5a623"/><rect x="4" y="2" width="3" height="3" rx="1" fill="#f5a623" opacity=".7"/></svg>
<div class="t" style="left:129.70px;top:362px;font-size:5.7px;color:#2b3247;font-weight:normal;">SwiftBuds</div>
<div class="t" style="left:198.70px;top:362px;font-size:5.7px;color:#2b3247;font-weight:normal;">$39.99</div>
<div class="abs" style="left:234.70px;top:360.80px;width:25.00px;height:7.40px;background:#5c67f7;border-radius:1.5px"></div>
<div class="t" style="left:147.20px;width:200px;text-align:center;top:363px;font-size:4.5px;color:#fff;font-weight:bold;">Success</div>
<svg class="abs" style="left:114.7px;top:383.10px" width="11.4" height="11.4" viewBox="0 0 12 12"><rect width="12" height="12" rx="1.5" fill="#e7c7e6"/><circle cx="6" cy="6.5" r="3" fill="#2a8a3a"/><rect x="4" y="2" width="3" height="3" rx="1" fill="#2a8a3a" opacity=".7"/></svg>
<div class="t" style="left:129.70px;top:387px;font-size:5.7px;color:#2b3247;font-weight:normal;">CozyCloud Pillow</div>
<div class="t" style="left:198.70px;top:387px;font-size:5.7px;color:#2b3247;font-weight:normal;">$19.95</div>
<div class="abs" style="left:234.70px;top:385.10px;width:25.00px;height:7.40px;background:#e354d4;border-radius:1.5px"></div>
<div class="t" style="left:147.20px;width:200px;text-align:center;top:388px;font-size:4.5px;color:#fff;font-weight:bold;">Pending</div>
<svg class="abs" style="left:114.7px;top:407.40px" width="11.4" height="11.4" viewBox="0 0 12 12"><rect width="12" height="12" rx="1.5" fill="#2b2a6e"/><circle cx="6" cy="6.5" r="3" fill="#c9c3ff"/><rect x="4" y="2" width="3" height="3" rx="1" fill="#c9c3ff" opacity=".7"/></svg>
<div class="t" style="left:129.70px;top:411px;font-size:5.7px;color:#2b3247;font-weight:normal;">AquaGrip Bottle</div>
<div class="t" style="left:198.70px;top:411px;font-size:5.7px;color:#2b3247;font-weight:normal;">$9.99</div>
<div class="abs" style="left:234.70px;top:409.40px;width:19.50px;height:7.40px;background:#ff5d9f;border-radius:1.5px"></div>
<div class="t" style="left:144.45px;width:200px;text-align:center;top:412px;font-size:4.5px;color:#fff;font-weight:bold;">Failed</div>
<svg class="abs" style="left:114.7px;top:431.70px" width="11.4" height="11.4" viewBox="0 0 12 12"><rect width="12" height="12" rx="1.5" fill="#f06470"/><circle cx="6" cy="6.5" r="3" fill="#3a2020"/><rect x="4" y="2" width="3" height="3" rx="1" fill="#3a2020" opacity=".7"/></svg>
<div class="t" style="left:129.70px;top:435px;font-size:5.7px;color:#2b3247;font-weight:normal;">GlowLite Lamp</div>
<div class="t" style="left:198.70px;top:435px;font-size:5.7px;color:#2b3247;font-weight:normal;">$24.99</div>
<div class="abs" style="left:234.70px;top:433.70px;width:25.00px;height:7.40px;background:#ff8e6f;border-radius:1.5px"></div>
<div class="t" style="left:147.20px;width:200px;text-align:center;top:436px;font-size:4.5px;color:#fff;font-weight:bold;">Success</div>
<svg class="abs" style="left:114.7px;top:456.00px" width="11.4" height="11.4" viewBox="0 0 12 12"><rect width="12" height="12" rx="1.5" fill="#2a4a5e"/><circle cx="6" cy="6.5" r="3" fill="#f0a050"/><rect x="4" y="2" width="3" height="3" rx="1" fill="#f0a050" opacity=".7"/></svg>
<div class="t" style="left:129.70px;top:460px;font-size:5.7px;color:#2b3247;font-weight:normal;">Bitvitamin</div>
<div class="t" style="left:198.70px;top:460px;font-size:5.7px;color:#2b3247;font-weight:normal;">$26.45</div>
<div class="abs" style="left:234.70px;top:458.00px;width:25.00px;height:7.40px;background:#9e5cf7;border-radius:1.5px"></div>
<div class="t" style="left:147.20px;width:200px;text-align:center;top:461px;font-size:4.5px;color:#fff;font-weight:bold;">Success</div>
<svg class="abs" style="left:114.7px;top:480.30px" width="11.4" height="11.4" viewBox="0 0 12 12"><rect width="12" height="12" rx="1.5" fill="#f7a0c8"/><circle cx="6" cy="6.5" r="3" fill="#a03a6a"/><rect x="4" y="2" width="3" height="3" rx="1" fill="#a03a6a" opacity=".7"/></svg>
<div class="t" style="left:129.70px;top:484px;font-size:5.7px;color:#2b3247;font-weight:normal;">FitTrack</div>
<div class="t" style="left:198.70px;top:484px;font-size:5.7px;color:#2b3247;font-weight:normal;">$49.95</div>
<div class="abs" style="left:234.70px;top:482.30px;width:25.00px;height:7.40px;background:#ffc658;border-radius:1.5px"></div>
<div class="t" style="left:147.20px;width:200px;text-align:center;top:485px;font-size:4.5px;color:#fff;font-weight:bold;">Success</div>
<div class="card" style="left:281px;top:310.6px;width:163.3px;height:189.9px"></div>
<div class="t" style="left:287.70px;top:319px;font-size:7.0px;color:#232a3d;font-weight:normal;letter-spacing:.0px">Recent Activity</div>
<div class="abs" style="left:410.00px;top:317.30px;width:27.70px;height:11.70px;background:#f3f4f7;border-radius:2px"></div><div class="t" style="left:414.20px;top:321px;font-size:5.0px;color:#5b6478;font-weight:normal;">View All</div>
<div class="abs" style="left:314.70px;top:344.00px;width:0.60px;height:130.00px;background:#eef0f4"></div>
<div class="t" style="left:287.70px;top:342px;font-size:5.0px;color:#3a4256;font-weight:normal;">12 Hrs</div>
<div class="abs" style="left:312.60px;top:341.60px;width:4.80px;height:4.80px;border-radius:50%;background:#5c67f7;opacity:.15"></div>
<div class="abs" style="left:313.70px;top:342.70px;width:2.60px;height:2.60px;border-radius:50%;background:#5c67f7"></div>
<div class="t" style="left:326.00px;top:341px;font-size:6.4px;color:#2b3247;font-weight:normal;">John Doe</div>
<div class="t" style="left:326.00px;top:349px;font-size:6.0px;color:#7b849a;font-weight:normal;letter-spacing:.1px"><span style="color:#7b849a">Updated the product description for</span></div>
<div class="t" style="left:326.00px;top:357px;font-size:6.0px;color:#7b849a;font-weight:normal;letter-spacing:.1px"><span style="color:#5c67f7">Widget X.</span></div>
<div class="t" style="left:287.70px;top:374px;font-size:5.0px;color:#3a4256;font-weight:normal;">4:32pm</div>
<div class="abs" style="left:312.60px;top:373.60px;width:4.80px;height:4.80px;border-radius:50%;background:#e354d4;opacity:.15"></div>
<div class="abs" style="left:313.70px;top:374.70px;width:2.60px;height:2.60px;border-radius:50%;background:#e354d4"></div>
<div class="t" style="left:326.00px;top:373px;font-size:6.4px;color:#2b3247;font-weight:normal;">Jane Smith</div>
<div class="t" style="left:326.00px;top:381px;font-size:6.0px;color:#7b849a;font-weight:normal;letter-spacing:.1px"><span style="color:#7b849a">added a </span><span style="color:#2b3247">new user</span><span style="color:#7b849a"> with username</span></div>
<div class="t" style="left:326.00px;top:389px;font-size:6.0px;color:#7b849a;font-weight:normal;letter-spacing:.1px"><span style="color:#e354d4">janesmith89.</span></div>
<div class="t" style="left:287.70px;top:406px;font-size:5.0px;color:#3a4256;font-weight:normal;">11:45am</div>
<div class="abs" style="left:312.60px;top:406.20px;width:4.80px;height:4.80px;border-radius:50%;background:#ff5d9f;opacity:.15"></div>
<div class="abs" style="left:313.70px;top:407.30px;width:2.60px;height:2.60px;border-radius:50%;background:#ff5d9f"></div>
<div class="t" style="left:326.00px;top:405px;font-size:6.4px;color:#2b3247;font-weight:normal;">Michael Brown</div>
<div class="t" style="left:326.00px;top:413px;font-size:6.0px;color:#7b849a;font-weight:normal;letter-spacing:.1px"><span style="color:#7b849a">Changed the status of order </span><span style="color:#2b3247;text-decoration:underline">#12345</span><span style="color:#7b849a"> to</span></div>
<div class="t" style="left:326.00px;top:421px;font-size:6.0px;color:#7b849a;font-weight:normal;letter-spacing:.1px"><span style="color:#ff5d9f">Shipped.</span></div>
<div class="t" style="left:287.70px;top:439px;font-size:5.0px;color:#3a4256;font-weight:normal;">9:27am</div>
<div class="abs" style="left:312.60px;top:438.60px;width:4.80px;height:4.80px;border-radius:50%;background:#ff8e6f;opacity:.15"></div>
<div class="abs" style="left:313.70px;top:439.70px;width:2.60px;height:2.60px;border-radius:50%;background:#ff8e6f"></div>
<div class="t" style="left:326.00px;top:438px;font-size:6.4px;color:#2b3247;font-weight:normal;">David Wilson</div>
<div class="t" style="left:326.00px;top:446px;font-size:6.0px;color:#7b849a;font-weight:normal;letter-spacing:.1px"><span style="color:#7b849a">added </span><span style="color:#ff8e6f">John Smith</span><span style="color:#7b849a"> to academy group</span></div>
<div class="t" style="left:326.00px;top:454px;font-size:6.0px;color:#7b849a;font-weight:normal;letter-spacing:.1px"><span style="color:#7b849a">this day.</span></div>
<div class="t" style="left:287.70px;top:471px;font-size:5.0px;color:#3a4256;font-weight:normal;">8:56pm</div>
<div class="abs" style="left:312.60px;top:470.90px;width:4.80px;height:4.80px;border-radius:50%;background:#9e5cf7;opacity:.15"></div>
<div class="abs" style="left:313.70px;top:472.00px;width:2.60px;height:2.60px;border-radius:50%;background:#9e5cf7"></div>
<div class="t" style="left:326.00px;top:470px;font-size:6.4px;color:#2b3247;font-weight:normal;">Robert Jackson</div>
<div class="t" style="left:326.00px;top:478px;font-size:6.0px;color:#7b849a;font-weight:normal;letter-spacing:.1px"><span style="color:#7b849a">added a comment to the task </span><span style="color:#9e5cf7">Update</span></div>
<div class="t" style="left:326.00px;top:486px;font-size:6.0px;color:#7b849a;font-weight:normal;letter-spacing:.1px"><span style="color:#9e5cf7">website layout.</span></div>
<div class="card" style="left:454.3px;top:310.6px;width:163px;height:189.9px"></div>
<div class="t" style="left:460.70px;top:319px;font-size:7.0px;color:#232a3d;font-weight:normal;letter-spacing:.0px">Sales Statistics</div>
<div class="abs" style="left:580.00px;top:317.30px;width:30.70px;height:11.70px;background:#f3f4f7;border-radius:2px"></div><div class="t" style="left:584.20px;top:321px;font-size:5.2px;color:#5b6478;font-weight:normal;">Sort By</div><svg class="abs" style="left:602.70px;top:321.65px" width="4" height="3" viewBox="0 0 4 3"><path d="M.6 .8 L2 2.2 L3.4 .8" fill="none" stroke="#8a92a6" stroke-width=".5"/></svg>
<div class="abs" style="left:460.70px;top:339.00px;width:50.30px;height:31.30px;background:#f6f7f9;border-radius:2px"></div>
<div class="t" style="left:471.30px;top:347px;font-size:6.0px;color:#2b3247;font-weight:normal;">Total Sales</div>
<div class="t" style="left:471.30px;top:356px;font-size:6.6px;color:#2b3247;font-weight:normal;">$3.478B</div>
<div class="abs" style="left:515.00px;top:339.00px;width:46.00px;height:31.30px;background:#f6f7f9;border-radius:2px"></div>
<div class="t" style="left:438.00px;width:200px;text-align:center;top:347px;font-size:6.0px;color:#2b3247;font-weight:normal;">This Year</div>
<div class="t" style="left:438.00px;width:200px;text-align:center;top:356px;font-size:6.6px;color:#21ce9c;font-weight:normal;">4,25,349</div>
<div class="abs" style="left:565.00px;top:339.00px;width:45.70px;height:31.30px;background:#f6f7f9;border-radius:2px"></div>
<div class="t" style="left:487.85px;width:200px;text-align:center;top:347px;font-size:6.0px;color:#2b3247;font-weight:normal;">Last Year</div>
<div class="t" style="left:487.85px;width:200px;text-align:center;top:356px;font-size:6.6px;color:#fb4242;font-weight:normal;">3,41,622</div>
<svg class="abs" style="left:0;top:0" width="800" height="600"><line x1="479" y1="388.3" x2="604" y2="388.3" stroke="#eceef3" stroke-width=".5" stroke-dasharray="1 1"/><line x1="479" y1="406.7" x2="604" y2="406.7" stroke="#eceef3" stroke-width=".5" stroke-dasharray="1 1"/><line x1="479" y1="425.1" x2="604" y2="425.1" stroke="#eceef3" stroke-width=".5" stroke-dasharray="1 1"/><line x1="479" y1="443.6" x2="604" y2="443.6" stroke="#eceef3" stroke-width=".5" stroke-dasharray="1 1"/><line x1="479" y1="462.0" x2="604" y2="462.0" stroke="#eceef3" stroke-width=".5" stroke-dasharray="1 1"/><rect x="485.20" y="415.7" width="5.2" height="17.00" rx="1" fill="#ff8e6f"/><rect x="485.20" y="431.7" width="5.2" height="13.60" fill="#e354d4"/><rect x="485.20" y="444.3" width="5.2" height="18.20" rx="1" fill="#5c67f7"/><rect x="503.20" y="414.3" width="5.2" height="23.00" rx="1" fill="#ff8e6f"/><rect x="503.20" y="436.3" width="5.2" height="6.40" fill="#e354d4"/><rect x="503.20" y="441.7" width="5.2" height="20.80" rx="1" fill="#5c67f7"/><rect x="520.90" y="427" width="5.2" height="17.30" rx="1" fill="#ff8e6f"/><rect x="520.90" y="443.3" width="5.2" height="6.70" fill="#e354d4"/><rect x="520.90" y="449" width="5.2" height="13.50" rx="1" fill="#5c67f7"/><rect x="538.90" y="393.3" width="5.2" height="13.40" rx="1" fill="#ff8e6f"/><rect x="538.90" y="405.7" width="5.2" height="38.60" fill="#e354d4"/><rect x="538.90" y="443.3" width="5.2" height="19.20" rx="1" fill="#5c67f7"/><rect x="556.70" y="401.7" width="5.2" height="17.60" rx="1" fill="#ff8e6f"/><rect x="556.70" y="418.3" width="5.2" height="18.40" fill="#e354d4"/><rect x="556.70" y="435.7" width="5.2" height="26.80" rx="1" fill="#5c67f7"/><rect x="574.40" y="399" width="5.2" height="12.70" rx="1" fill="#ff8e6f"/><rect x="574.40" y="410.7" width="5.2" height="15.30" fill="#e354d4"/><rect x="574.40" y="425" width="5.2" height="37.50" rx="1" fill="#5c67f7"/><rect x="592.20" y="404" width="5.2" height="17.70" rx="1" fill="#ff8e6f"/><rect x="592.20" y="420.7" width="5.2" height="17.00" fill="#e354d4"/><rect x="592.20" y="436.7" width="5.2" height="25.80" rx="1" fill="#5c67f7"/></svg>
<div class="t" style="right:324.30px;top:387px;font-size:4.5px;color:#6b7389;font-weight:normal;">320</div>
<div class="t" style="right:324.30px;top:406px;font-size:4.5px;color:#6b7389;font-weight:normal;">240</div>
<div class="t" style="right:324.30px;top:424px;font-size:4.5px;color:#6b7389;font-weight:normal;">160</div>
<div class="t" style="right:324.30px;top:442px;font-size:4.5px;color:#6b7389;font-weight:normal;">80</div>
<div class="t" style="right:324.30px;top:461px;font-size:4.5px;color:#6b7389;font-weight:normal;">0</div>
<div class="t" style="left:387.80px;width:200px;text-align:center;top:469px;font-size:5.1px;color:#8a92a6;font-weight:normal;">Mon</div>
<div class="t" style="left:405.80px;width:200px;text-align:center;top:469px;font-size:5.1px;color:#8a92a6;font-weight:normal;">Tue</div>
<div class="t" style="left:423.50px;width:200px;text-align:center;top:469px;font-size:5.1px;color:#8a92a6;font-weight:normal;">Wed</div>
<div class="t" style="left:441.50px;width:200px;text-align:center;top:469px;font-size:5.1px;color:#8a92a6;font-weight:normal;">Thu</div>
<div class="t" style="left:459.30px;width:200px;text-align:center;top:469px;font-size:5.1px;color:#8a92a6;font-weight:normal;">Fri</div>
<div class="t" style="left:477.00px;width:200px;text-align:center;top:469px;font-size:5.1px;color:#8a92a6;font-weight:normal;">Sat</div>
<div class="t" style="left:494.80px;width:200px;text-align:center;top:469px;font-size:5.1px;color:#8a92a6;font-weight:normal;">Sun</div>
<div class="abs" style="left:492.00px;top:481.40px;width:2.60px;height:2.60px;border-radius:50%;background:#5c67f7"></div>
<div class="t" style="left:498.80px;top:481px;font-size:5.1px;color:#3a4256;font-weight:normal;">Total</div>
<div class="abs" style="left:515.40px;top:481.40px;width:2.60px;height:2.60px;border-radius:50%;background:#e354d4"></div>
<div class="t" style="left:522.20px;top:481px;font-size:5.1px;color:#3a4256;font-weight:normal;">This Year</div>
<div class="abs" style="left:549.70px;top:481.40px;width:2.60px;height:2.60px;border-radius:50%;background:#ff8e6f"></div>
<div class="t" style="left:556.50px;top:481px;font-size:5.1px;color:#3a4256;font-weight:normal;">Last Year</div>
<div class="card" style="left:627.3px;top:310.6px;width:163.4px;height:191.1px"></div>
<div class="t" style="left:634.00px;top:319px;font-size:7.0px;color:#232a3d;font-weight:normal;letter-spacing:.0px">Overall Statistics</div>
<div class="abs" style="left:756.70px;top:317.30px;width:27.30px;height:11.70px;background:#f3f4f7;border-radius:2px"></div><div class="t" style="left:760.90px;top:321px;font-size:5.0px;color:#5b6478;font-weight:normal;">View All</div>
<div class="abs" style="left:634.30px;top:336.00px;width:149.00px;height:159.00px;border:.6px solid #eef0f4;border-radius:2px"></div>
<div class="t" style="left:641.00px;top:344px;font-size:5.7px;color:#7b849a;font-weight:normal;">Total Expenses</div>
<div class="t" style="left:641.00px;top:353px;font-size:7.0px;color:#2b3247;font-weight:normal;letter-spacing:0">$134,032</div>
<div class="t" style="left:673.00px;top:356px;font-size:4.9px;color:#21ce9c;font-weight:normal;">0.45%</div>
<svg class="abs" style="left:689.00px;top:355.40px" width="4" height="3.3" viewBox="0 0 4 3.3"><g fill="none" stroke="#21ce9c" stroke-width=".45"><path d="M.4 2.6 L1.5 1.5 L2.2 2.1 L3.6 .7 M2.6 .7 H3.6 V1.7"/></g></svg>
<svg class="abs" style="left:0;top:0" width="800" height="600"><path d="M735.40 353.40 C736.01 352.21 738.75 344.90 739.97 344.50 C741.18 344.10 743.32 350.63 744.53 350.40 C745.75 350.17 747.88 343.45 749.10 342.80 C750.32 342.15 752.45 345.27 753.67 345.50 C754.88 345.73 757.02 343.99 758.23 344.50 C759.45 345.01 761.58 349.01 762.80 349.30 C764.02 349.59 766.15 347.74 767.37 346.70 C768.58 345.66 770.72 341.03 771.93 341.50 C773.15 341.97 775.89 349.04 776.50 350.20" fill="none" stroke="#9e5cf7" stroke-width="1" stroke-linecap="round"/></svg>
<div class="t" style="left:745.00px;top:356px;font-size:5.3px;color:#3a4256;font-weight:normal;">See more</div>
<svg class="abs" style="left:772.50px;top:355.50px" width="4.8" height="5" viewBox="0 0 4.8 5"><path d="M.3 2.5 H3.8 M2.1999999999999997 1 L3.8 2.5 L2.1999999999999997 4" fill="none" stroke="#3a4256" stroke-width="0.5"/></svg>
<div class="abs" style="left:634.30px;top:367.80px;width:149.00px;height:0.60px;background:#eef0f4"></div>
<div class="t" style="left:641.00px;top:376px;font-size:5.7px;color:#7b849a;font-weight:normal;">General Leads</div>
<div class="t" style="left:641.00px;top:385px;font-size:7.0px;color:#2b3247;font-weight:normal;letter-spacing:0">74,354</div>
<div class="t" style="left:666.70px;top:388px;font-size:4.9px;color:#fb4242;font-weight:normal;">3.84%</div>
<svg class="abs" style="left:682.70px;top:387.20px" width="4" height="3.3" viewBox="0 0 4 3.3"><g fill="none" stroke="#fb4242" stroke-width=".45"><path d="M.4 .7 L1.5 1.8 L2.2 1.2 L3.6 2.6 M2.6 2.6 H3.6 V1.6"/></g></svg>
<svg class="abs" style="left:0;top:0" width="800" height="600"><path d="M735.40 385.40 C736.01 384.39 738.75 378.57 739.97 377.80 C741.18 377.03 743.32 379.89 744.53 379.60 C745.75 379.31 747.88 375.60 749.10 375.60 C750.32 375.60 752.45 379.55 753.67 379.60 C754.88 379.65 757.02 375.48 758.23 376.00 C759.45 376.52 761.58 383.55 762.80 383.50 C764.02 383.45 766.15 376.99 767.37 375.60 C768.58 374.21 770.72 372.59 771.93 373.10 C773.15 373.61 775.89 378.56 776.50 379.40" fill="none" stroke="#e354d4" stroke-width="1" stroke-linecap="round"/></svg>
<div class="t" style="left:745.00px;top:388px;font-size:5.3px;color:#3a4256;font-weight:normal;">See more</div>
<svg class="abs" style="left:772.50px;top:387.30px" width="4.8" height="5" viewBox="0 0 4.8 5"><path d="M.3 2.5 H3.8 M2.1999999999999997 1 L3.8 2.5 L2.1999999999999997 4" fill="none" stroke="#3a4256" stroke-width="0.5"/></svg>
<div class="abs" style="left:634.30px;top:399.60px;width:149.00px;height:0.60px;background:#eef0f4"></div>
<div class="t" style="left:641.00px;top:408px;font-size:5.7px;color:#7b849a;font-weight:normal;">Churn Rate</div>
<div class="t" style="left:641.00px;top:416px;font-size:7.0px;color:#2b3247;font-weight:normal;letter-spacing:0">6.02%</div>
<div class="t" style="left:664.00px;top:419px;font-size:4.9px;color:#21ce9c;font-weight:normal;">0.72%</div>
<svg class="abs" style="left:680.00px;top:419.00px" width="4" height="3.3" viewBox="0 0 4 3.3"><g fill="none" stroke="#21ce9c" stroke-width=".45"><path d="M.4 2.6 L1.5 1.5 L2.2 2.1 L3.6 .7 M2.6 .7 H3.6 V1.7"/></g></svg>
<svg class="abs" style="left:0;top:0" width="800" height="600"><path d="M735.40 417.40 C736.01 416.87 738.75 414.79 739.97 413.40 C741.18 412.01 743.32 407.00 744.53 407.00 C745.75 407.00 747.88 412.76 749.10 413.40 C750.32 414.04 752.45 412.33 753.67 411.80 C754.88 411.27 757.02 408.87 758.23 409.40 C759.45 409.93 761.58 416.33 762.80 415.80 C764.02 415.27 766.15 406.36 767.37 405.40 C768.58 404.44 770.72 407.64 771.93 408.60 C773.15 409.56 775.89 412.07 776.50 412.60" fill="none" stroke="#ff5d9f" stroke-width="1" stroke-linecap="round"/></svg>
<div class="t" style="left:745.00px;top:419px;font-size:5.3px;color:#3a4256;font-weight:normal;">See more</div>
<svg class="abs" style="left:772.50px;top:419.10px" width="4.8" height="5" viewBox="0 0 4.8 5"><path d="M.3 2.5 H3.8 M2.1999999999999997 1 L3.8 2.5 L2.1999999999999997 4" fill="none" stroke="#3a4256" stroke-width="0.5"/></svg>
<div class="abs" style="left:634.30px;top:431.40px;width:149.00px;height:0.60px;background:#eef0f4"></div>
<div class="t" style="left:641.00px;top:440px;font-size:5.7px;color:#7b849a;font-weight:normal;">New Users</div>
<div class="t" style="left:641.00px;top:448px;font-size:7.0px;color:#2b3247;font-weight:normal;letter-spacing:0">7,893</div>
<div class="t" style="left:662.70px;top:451px;font-size:4.9px;color:#21ce9c;font-weight:normal;">11.05%</div>
<svg class="abs" style="left:679.70px;top:450.80px" width="4" height="3.3" viewBox="0 0 4 3.3"><g fill="none" stroke="#21ce9c" stroke-width=".45"><path d="M.4 2.6 L1.5 1.5 L2.2 2.1 L3.6 .7 M2.6 .7 H3.6 V1.7"/></g></svg>
<svg class="abs" style="left:0;top:0" width="800" height="600"><path d="M735.40 449.40 C736.01 448.97 738.75 446.95 739.97 446.20 C741.18 445.45 743.32 444.55 744.53 443.80 C745.75 443.05 747.88 440.28 749.10 440.60 C750.32 440.92 752.45 445.81 753.67 446.20 C754.88 446.59 757.02 443.43 758.23 443.50 C759.45 443.57 761.58 446.77 762.80 446.70 C764.02 446.63 766.15 444.24 767.37 443.00 C768.58 441.76 770.72 437.19 771.93 437.40 C773.15 437.61 775.89 443.64 776.50 444.60" fill="none" stroke="#ff8e6f" stroke-width="1" stroke-linecap="round"/></svg>
<div class="t" style="left:745.00px;top:451px;font-size:5.3px;color:#3a4256;font-weight:normal;">See more</div>
<svg class="abs" style="left:772.50px;top:450.90px" width="4.8" height="5" viewBox="0 0 4.8 5"><path d="M.3 2.5 H3.8 M2.1999999999999997 1 L3.8 2.5 L2.1999999999999997 4" fill="none" stroke="#3a4256" stroke-width="0.5"/></svg>
<div class="abs" style="left:634.30px;top:463.20px;width:149.00px;height:0.60px;background:#eef0f4"></div>
<div class="t" style="left:641.00px;top:471px;font-size:5.7px;color:#7b849a;font-weight:normal;">Returning Users</div>
<div class="t" style="left:641.00px;top:480px;font-size:7.0px;color:#2b3247;font-weight:normal;letter-spacing:0">3,258</div>
<div class="t" style="left:662.70px;top:483px;font-size:4.9px;color:#21ce9c;font-weight:normal;">1.69%</div>
<svg class="abs" style="left:677.70px;top:482.60px" width="4" height="3.3" viewBox="0 0 4 3.3"><g fill="none" stroke="#21ce9c" stroke-width=".45"><path d="M.4 2.6 L1.5 1.5 L2.2 2.1 L3.6 .7 M2.6 .7 H3.6 V1.7"/></g></svg>
<svg class="abs" style="left:0;top:0" width="800" height="600"><path d="M735.40 481.40 C736.01 480.87 738.75 478.25 739.97 477.40 C741.18 476.55 743.32 475.43 744.53 475.00 C745.75 474.57 747.88 474.95 749.10 474.20 C750.32 473.45 752.45 469.08 753.67 469.40 C754.88 469.72 757.02 476.17 758.23 476.60 C759.45 477.03 761.58 472.45 762.80 472.60 C764.02 472.75 766.15 477.38 767.37 477.70 C768.58 478.02 770.72 474.93 771.93 475.00 C773.15 475.07 775.89 477.77 776.50 478.20" fill="none" stroke="#9e5cf7" stroke-width="1" stroke-linecap="round"/></svg>
<div class="t" style="left:745.00px;top:483px;font-size:5.3px;color:#3a4256;font-weight:normal;">See more</div>
<svg class="abs" style="left:772.50px;top:482.70px" width="4.8" height="5" viewBox="0 0 4.8 5"><path d="M.3 2.5 H3.8 M2.1999999999999997 1 L3.8 2.5 L2.1999999999999997 4" fill="none" stroke="#3a4256" stroke-width="0.5"/></svg>
<div class="card" style="left:107.5px;top:511.8px;width:510px;height:100px"></div>
<div class="t" style="left:114.30px;top:520px;font-size:7.0px;color:#232a3d;font-weight:normal;letter-spacing:.0px">Recent Orders</div>
<div class="abs" style="left:583.70px;top:519.00px;width:26.90px;height:11.00px;background:#f3f4f7;border-radius:2px"></div><div class="t" style="left:587.90px;top:522px;font-size:5.0px;color:#5b6478;font-weight:normal;">View All</div>
<div class="abs" style="left:117.00px;top:540.50px;width:6.00px;height:6.00px;border:.6px solid #dfe2e8;border-radius:1px;background:#fff"></div>
<div class="t" style="left:139.00px;top:541px;font-size:5.9px;color:#2b3247;font-weight:normal;">Customer</div>
<div class="t" style="left:262.00px;top:541px;font-size:5.9px;color:#2b3247;font-weight:normal;">Product</div>
<div class="t" style="left:360.60px;top:541px;font-size:5.9px;color:#2b3247;font-weight:normal;">Quantity</div>
<div class="t" style="left:408.00px;top:541px;font-size:5.9px;color:#2b3247;font-weight:normal;">Amount</div>
<div class="t" style="left:448.80px;top:541px;font-size:5.9px;color:#2b3247;font-weight:normal;">Status</div>
<div class="t" style="left:505.00px;top:541px;font-size:5.9px;color:#2b3247;font-weight:normal;">Date Ordered</div>
<div class="t" style="left:570.00px;top:541px;font-size:5.9px;color:#2b3247;font-weight:normal;">Actions</div>
<div class="abs" style="left:107.50px;top:553.70px;width:510.00px;height:0.60px;background:#f0f1f5"></div>
<div class="abs" style="left:107.50px;top:580.00px;width:510.00px;height:0.60px;background:#f0f1f5"></div>
<div class="abs" style="left:117.00px;top:564.00px;width:6.00px;height:6.00px;background:#5c67f7;border-radius:1px"></div>
<svg class="abs" style="left:117px;top:564px" width="6" height="6" viewBox="0 0 6 6"><path d="M1.5 3 L2.6 4 L4.5 2" fill="none" stroke="#fff" stroke-width=".7"/></svg>
<svg class="abs" style="left:139.4px;top:561.40px" width="11.2" height="11.2" viewBox="0 0 12 12"><rect width="12" height="12" rx="1.2" fill="#f3a28f"/><path d="M2 12 C2.5 9 4 8 6 8 C8 8 9.5 9 10 12Z" fill="#3a2620"/><ellipse cx="6" cy="5.3" rx="2.2" ry="2.6" fill="#e0a080"/><path d="M3.6 5 C3.4 2.5 4.6 2 6 2 C7.4 2 8.6 2.6 8.4 5 C8 3.6 7 3.4 6 3.4 C5 3.4 4 3.8 3.6 5Z" fill="#3a2620"/></svg>
<div class="t" style="left:157.40px;top:561px;font-size:6.0px;color:#2b3247;font-weight:normal;">Elena smith</div>
<div class="t" style="left:157.40px;top:570px;font-size:4.9px;color:#7b80c8;font-weight:normal;letter-spacing:.12px">elenasmith387@gmail.com</div>
<div class="t" style="left:262.00px;top:565px;font-size:5.8px;color:#3a4256;font-weight:normal;">All-Purpose Cleaner</div>
<div class="t" style="left:372.60px;top:565px;font-size:5.8px;color:#3a4256;font-weight:normal;">3</div>
<div class="t" style="left:319.60px;width:200px;text-align:center;top:565px;font-size:5.8px;color:#3a4256;font-weight:normal;">$9.99</div>
<div class="abs" style="left:449.40px;top:563.30px;width:31.20px;height:7.40px;background:#eceefe;border-radius:1.5px"></div>
<div class="t" style="left:365.00px;width:200px;text-align:center;top:566px;font-size:4.8px;color:#5c67f7;font-weight:normal;">In Progress</div>
<div class="t" style="left:505.00px;top:565px;font-size:5.8px;color:#3a4256;font-weight:normal;">03,Sep 2024</div>
<div class="abs" style="left:570.00px;top:561.50px;width:11.60px;height:10.90px;background:#e4f8f2;border-radius:1.5px"></div>
<svg class="abs" style="left:573px;top:564.20px" width="6" height="6" viewBox="0 0 6 6"><path d="M1 5 L1.2 3.9 L4 1.1 L4.9 2 L2.1 4.8Z" fill="#21ce9c"/></svg>
<div class="abs" style="left:585.60px;top:561.50px;width:11.60px;height:10.90px;background:#feeaea;border-radius:1.5px"></div>
<svg class="abs" style="left:588.6px;top:564.10px" width="6" height="6" viewBox="0 0 6 6"><path d="M1.2 1.6 H4.8 M2.3 1.6 V1 H3.7 V1.6 M1.7 1.6 L2 5 H4 L4.3 1.6 M2.6 2.5 V4.2 M3.4 2.5 V4.2" fill="none" stroke="#fb4242" stroke-width=".5"/></svg>
<div class="abs" style="left:117.00px;top:590.50px;width:6.00px;height:6.00px;border:.6px solid #dfe2e8;border-radius:1px;background:#fff"></div>
<svg class="abs" style="left:139.4px;top:587.90px" width="11.2" height="11.2" viewBox="0 0 12 12"><rect width="12" height="12" rx="1.2" fill="#f08080"/><path d="M2 12 C2.5 9 4 8 6 8 C8 8 9.5 9 10 12Z" fill="#2a2a3a"/><ellipse cx="6" cy="5.3" rx="2.2" ry="2.6" fill="#e0a080"/><path d="M3.6 5 C3.4 2.5 4.6 2 6 2 C7.4 2 8.6 2.6 8.4 5 C8 3.6 7 3.4 6 3.4 C5 3.4 4 3.8 3.6 5Z" fill="#2a2a3a"/></svg>
<div class="t" style="left:157.40px;top:587px;font-size:6.0px;color:#2b3247;font-weight:normal;">Nelson Gold</div>
<div class="t" style="left:157.40px;top:597px;font-size:4.9px;color:#7b80c8;font-weight:normal;letter-spacing:.12px">noahrussell556@gmail.com</div>
<div class="t" style="left:262.00px;top:591px;font-size:5.8px;color:#3a4256;font-weight:normal;">Kitchen Knife Set</div>
<div class="t" style="left:372.60px;top:591px;font-size:5.8px;color:#3a4256;font-weight:normal;">4</div>
<div class="t" style="left:319.60px;width:200px;text-align:center;top:591px;font-size:5.8px;color:#3a4256;font-weight:normal;">$49.99</div>
<div class="abs" style="left:449.40px;top:589.80px;width:24.40px;height:7.40px;background:#fbe9f9;border-radius:1.5px"></div>
<div class="t" style="left:361.60px;width:200px;text-align:center;top:592px;font-size:4.8px;color:#e354d4;font-weight:normal;">Pending</div>
<div class="t" style="left:505.00px;top:591px;font-size:5.8px;color:#3a4256;font-weight:normal;">26,Jul 2024</div>
<div class="abs" style="left:570.00px;top:588.00px;width:11.60px;height:10.90px;background:#e4f8f2;border-radius:1.5px"></div>
<svg class="abs" style="left:573px;top:590.70px" width="6" height="6" viewBox="0 0 6 6"><path d="M1 5 L1.2 3.9 L4 1.1 L4.9 2 L2.1 4.8Z" fill="#21ce9c"/></svg>
<div class="abs" style="left:585.60px;top:588.00px;width:11.60px;height:10.90px;background:#feeaea;border-radius:1.5px"></div>
<svg class="abs" style="left:588.6px;top:590.60px" width="6" height="6" viewBox="0 0 6 6"><path d="M1.2 1.6 H4.8 M2.3 1.6 V1 H3.7 V1.6 M1.7 1.6 L2 5 H4 L4.3 1.6 M2.6 2.5 V4.2 M3.4 2.5 V4.2" fill="none" stroke="#fb4242" stroke-width=".5"/></svg>
<div class="card" style="left:627.4px;top:511.8px;width:163px;height:100px"></div>
<div class="t" style="left:634.00px;top:521px;font-size:7.0px;color:#232a3d;font-weight:normal;letter-spacing:.0px">Sales By Country</div>
<div class="abs" style="left:757.30px;top:519.00px;width:26.50px;height:11.20px;background:#f3f4f7;border-radius:2px"></div><div class="t" style="left:761.50px;top:522px;font-size:5.0px;color:#5b6478;font-weight:normal;">View All</div>
<div class="abs" style="left:634.00px;top:540.40px;width:11.40px;height:11.30px;background:#fff;border:.6px solid #f0f1f5;border-radius:2px"></div>
<svg class="abs" style="left:635.2px;top:541.40px" width="9" height="9" viewBox="0 0 9 9"><rect x="1" y="2" width="7" height="5.5" rx=".8" fill="#f3a5a5"/><path d="M1 3 H8 M1 4.2 H8 M1 5.4 H8 M1 6.6 H8" stroke="#e86060" stroke-width=".5"/><rect x="1" y="2" width="3.2" height="2.6" fill="#6a7bd8"/></svg>
<div class="t" style="left:652.60px;top:541px;font-size:5.7px;color:#2b3247;font-weight:normal;">United States</div>
<div class="t" style="right:16.20px;top:542px;font-size:6.2px;color:#2b3247;font-weight:normal;">31,672</div>
<div class="abs" style="left:653.70px;top:549.00px;width:130.20px;height:5.00px;background:#f6f7f9;border-radius:1px"></div>
<div class="abs" style="left:653.70px;top:551.10px;width:115.30px;height:1.50px;background:#5c67f7;border-radius:1px"></div>
<div class="abs" style="left:634.00px;top:561.20px;width:11.40px;height:11.30px;background:#fff;border:.6px solid #f0f1f5;border-radius:2px"></div>
<svg class="abs" style="left:635.2px;top:562.20px" width="9" height="9" viewBox="0 0 9 9"><rect x="1" y="2" width="2.4" height="5.5" fill="#5aa85a"/><rect x="3.4" y="2" width="2.3" height="5.5" fill="#fff"/><rect x="5.7" y="2" width="2.3" height="5.5" fill="#e84a4a"/></svg>
<div class="t" style="left:652.60px;top:562px;font-size:5.7px;color:#2b3247;font-weight:normal;">Italy</div>
<div class="t" style="right:16.20px;top:563px;font-size:6.2px;color:#2b3247;font-weight:normal;">29,557</div>
<div class="abs" style="left:653.70px;top:569.80px;width:130.20px;height:5.00px;background:#f6f7f9;border-radius:1px"></div>
<div class="abs" style="left:653.70px;top:571.90px;width:109.20px;height:1.50px;background:#e354d4;border-radius:1px"></div>
<div class="abs" style="left:634.00px;top:582.60px;width:11.40px;height:11.30px;background:#fff;border:.6px solid #f0f1f5;border-radius:2px"></div>
<svg class="abs" style="left:635.2px;top:583.60px" width="9" height="9" viewBox="0 0 9 9"><rect x="1" y="2" width="7" height="5.5" rx=".8" fill="#e84a4a"/><rect x="1" y="3.4" width="7" height="2.8" fill="#f5c030"/><rect x="2.2" y="3.8" width="1.2" height="1.6" fill="#c05030"/></svg>
<div class="t" style="left:652.60px;top:583px;font-size:5.7px;color:#2b3247;font-weight:normal;">Spain</div>
<div class="t" style="right:16.20px;top:584px;font-size:6.2px;color:#2b3247;font-weight:normal;">24,562</div>
<div class="abs" style="left:653.70px;top:591.20px;width:130.20px;height:5.00px;background:#f6f7f9;border-radius:1px"></div>
<div class="abs" style="left:653.70px;top:593.30px;width:102.90px;height:1.50px;background:#ff5d9f;border-radius:1px"></div>
</body></html>
